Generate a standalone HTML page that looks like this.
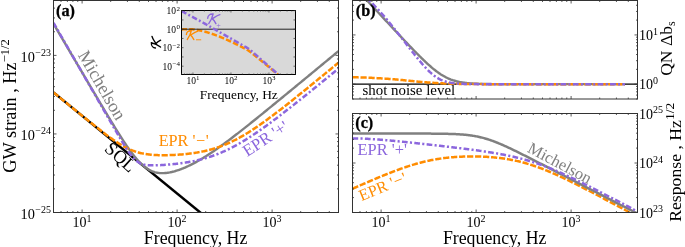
<!DOCTYPE html>
<html><head><meta charset="utf-8"><style>html,body{margin:0;padding:0;background:#fff;}svg{display:block;will-change:transform;}</style></head>
<body>
<svg width="685" height="247" viewBox="0 0 685 247" font-family="'Liberation Serif', serif">
<rect width="685" height="247" fill="#fff"/>
<defs>
<clipPath id="ca"><rect x="53.5" y="0.5" width="285.0" height="212.0"/></clipPath>
<clipPath id="cb"><rect x="352.5" y="0.5" width="285.0" height="98.5"/></clipPath>
<clipPath id="cc"><rect x="352.5" y="113.5" width="285.0" height="99.0"/></clipPath>
<clipPath id="ci"><rect x="181.5" y="10.5" width="114.0" height="64.0"/></clipPath>
</defs>
<g clip-path="url(#ca)">
<path d="M53.50,92.40 L215.00,224.51" stroke="#000" stroke-width="2.5" fill="none"/>
<path d="M53.50,23.71 L54.45,25.34 L55.41,26.96 L56.36,28.58 L57.31,30.20 L58.27,31.82 L59.22,33.44 L60.17,35.07 L61.13,36.69 L62.08,38.31 L63.03,39.93 L63.98,41.55 L64.94,43.17 L65.89,44.80 L66.84,46.42 L67.80,48.04 L68.75,49.66 L69.70,51.28 L70.66,52.90 L71.61,54.52 L72.56,56.14 L73.52,57.76 L74.47,59.38 L75.42,61.01 L76.38,62.63 L77.33,64.25 L78.28,65.87 L79.24,67.49 L80.19,69.11 L81.14,70.73 L82.10,72.34 L83.05,73.96 L84.00,75.58 L84.95,77.20 L85.91,78.82 L86.86,80.44 L87.81,82.05 L88.77,83.67 L89.72,85.29 L90.67,86.90 L91.63,88.52 L92.58,90.13 L93.53,91.74 L94.49,93.36 L95.44,94.97 L96.39,96.58 L97.35,98.19 L98.30,99.80 L99.25,101.41 L100.21,103.01 L101.16,104.61 L102.11,106.22 L103.07,107.82 L104.02,109.42 L104.97,111.01 L105.92,112.60 L106.88,114.19 L107.83,115.78 L108.78,117.36 L109.74,118.94 L110.69,120.52 L111.64,122.09 L112.60,123.66 L113.55,125.22 L114.50,126.77 L115.46,128.32 L116.41,129.86 L117.36,131.39 L118.32,132.91 L119.27,134.43 L120.22,135.93 L121.18,137.43 L122.13,138.91 L123.08,140.37 L124.04,141.83 L124.99,143.26 L125.94,144.68 L126.89,146.08 L127.85,147.47 L128.80,148.83 L129.75,150.16 L130.71,151.48 L131.66,152.76 L132.61,154.02 L133.57,155.25 L134.52,156.45 L135.47,157.61 L136.43,158.74 L137.38,159.84 L138.33,160.89 L139.29,161.90 L140.24,162.88 L141.19,163.81 L142.15,164.70 L143.10,165.54 L144.05,166.33 L145.01,167.09 L145.96,167.79 L146.91,168.45 L147.86,169.06 L148.82,169.62 L149.77,170.14 L150.72,170.61 L151.68,171.04 L152.63,171.42 L153.58,171.77 L154.54,172.07 L155.49,172.33 L156.44,172.55 L157.40,172.73 L158.35,172.88 L159.30,173.00 L160.26,173.08 L161.21,173.13 L162.16,173.15 L163.12,173.15 L164.07,173.11 L165.02,173.05 L165.97,172.97 L166.93,172.86 L167.88,172.73 L168.83,172.58 L169.79,172.41 L170.74,172.22 L171.69,172.02 L172.65,171.79 L173.60,171.55 L174.55,171.29 L175.51,171.01 L176.46,170.72 L177.41,170.42 L178.37,170.10 L179.32,169.77 L180.27,169.43 L181.23,169.07 L182.18,168.70 L183.13,168.32 L184.09,167.92 L185.04,167.52 L185.99,167.10 L186.94,166.67 L187.90,166.23 L188.85,165.78 L189.80,165.33 L190.76,164.86 L191.71,164.38 L192.66,163.89 L193.62,163.39 L194.57,162.89 L195.52,162.37 L196.48,161.85 L197.43,161.31 L198.38,160.77 L199.34,160.22 L200.29,159.67 L201.24,159.10 L202.20,158.53 L203.15,157.95 L204.10,157.36 L205.06,156.77 L206.01,156.17 L206.96,155.56 L207.91,154.95 L208.87,154.33 L209.82,153.70 L210.77,153.07 L211.73,152.43 L212.68,151.79 L213.63,151.14 L214.59,150.48 L215.54,149.82 L216.49,149.16 L217.45,148.49 L218.40,147.82 L219.35,147.14 L220.31,146.45 L221.26,145.77 L222.21,145.08 L223.17,144.38 L224.12,143.68 L225.07,142.98 L226.03,142.28 L226.98,141.57 L227.93,140.86 L228.88,140.14 L229.84,139.42 L230.79,138.70 L231.74,137.98 L232.70,137.25 L233.65,136.52 L234.60,135.79 L235.56,135.06 L236.51,134.32 L237.46,133.58 L238.42,132.84 L239.37,132.10 L240.32,131.35 L241.28,130.61 L242.23,129.86 L243.18,129.11 L244.14,128.36 L245.09,127.60 L246.04,126.85 L246.99,126.09 L247.95,125.34 L248.90,124.58 L249.85,123.82 L250.81,123.06 L251.76,122.29 L252.71,121.53 L253.67,120.76 L254.62,120.00 L255.57,119.23 L256.53,118.46 L257.48,117.70 L258.43,116.93 L259.39,116.16 L260.34,115.39 L261.29,114.61 L262.25,113.84 L263.20,113.07 L264.15,112.29 L265.11,111.52 L266.06,110.74 L267.01,109.97 L267.96,109.19 L268.92,108.42 L269.87,107.64 L270.82,106.86 L271.78,106.08 L272.73,105.30 L273.68,104.52 L274.64,103.75 L275.59,102.97 L276.54,102.19 L277.50,101.40 L278.45,100.62 L279.40,99.84 L280.36,99.06 L281.31,98.28 L282.26,97.50 L283.22,96.71 L284.17,95.93 L285.12,95.15 L286.08,94.37 L287.03,93.58 L287.98,92.80 L288.93,92.02 L289.89,91.23 L290.84,90.45 L291.79,89.66 L292.75,88.88 L293.70,88.09 L294.65,87.31 L295.61,86.52 L296.56,85.74 L297.51,84.95 L298.47,84.17 L299.42,83.38 L300.37,82.60 L301.33,81.81 L302.28,81.03 L303.23,80.24 L304.19,79.45 L305.14,78.67 L306.09,77.88 L307.05,77.09 L308.00,76.31 L308.95,75.52 L309.90,74.74 L310.86,73.95 L311.81,73.16 L312.76,72.38 L313.72,71.59 L314.67,70.80 L315.62,70.01 L316.58,69.23 L317.53,68.44 L318.48,67.65 L319.44,66.87 L320.39,66.08 L321.34,65.29 L322.30,64.50 L323.25,63.72 L324.20,62.93 L325.16,62.14 L326.11,61.36 L327.06,60.57 L328.02,59.78 L328.97,58.99 L329.92,58.21 L330.87,57.42 L331.83,56.63 L332.78,55.84 L333.73,55.06 L334.69,54.27 L335.64,53.48 L336.59,52.69 L337.55,51.90 L338.50,51.12" fill="none" stroke="#808080" stroke-width="2.4" stroke-linejoin="round"/>
<path d="M53.50,92.39 L54.45,93.17 L55.41,93.95 L56.36,94.73 L57.31,95.51 L58.27,96.29 L59.22,97.07 L60.17,97.85 L61.13,98.63 L62.08,99.41 L63.03,100.19 L63.98,100.97 L64.94,101.74 L65.89,102.52 L66.84,103.30 L67.80,104.08 L68.75,104.85 L69.70,105.63 L70.66,106.40 L71.61,107.18 L72.56,107.96 L73.52,108.73 L74.47,109.50 L75.42,110.28 L76.38,111.05 L77.33,111.82 L78.28,112.60 L79.24,113.37 L80.19,114.14 L81.14,114.91 L82.10,115.68 L83.05,116.45 L84.00,117.22 L84.95,117.98 L85.91,118.75 L86.86,119.52 L87.81,120.28 L88.77,121.05 L89.72,121.81 L90.67,122.57 L91.63,123.33 L92.58,124.09 L93.53,124.85 L94.49,125.60 L95.44,126.36 L96.39,127.11 L97.35,127.86 L98.30,128.60 L99.25,129.35 L100.21,130.09 L101.16,130.83 L102.11,131.56 L103.07,132.29 L104.02,133.02 L104.97,133.74 L105.92,134.46 L106.88,135.17 L107.83,135.88 L108.78,136.58 L109.74,137.27 L110.69,137.96 L111.64,138.64 L112.60,139.31 L113.55,139.98 L114.50,140.63 L115.46,141.28 L116.41,141.91 L117.36,142.53 L118.32,143.15 L119.27,143.75 L120.22,144.33 L121.18,144.91 L122.13,145.46 L123.08,146.01 L124.04,146.54 L124.99,147.05 L125.94,147.55 L126.89,148.03 L127.85,148.50 L128.80,148.95 L129.75,149.38 L130.71,149.79 L131.66,150.18 L132.61,150.56 L133.57,150.92 L134.52,151.26 L135.47,151.59 L136.43,151.90 L137.38,152.19 L138.33,152.46 L139.29,152.72 L140.24,152.96 L141.19,153.18 L142.15,153.39 L143.10,153.59 L144.05,153.77 L145.01,153.94 L145.96,154.09 L146.91,154.23 L147.86,154.36 L148.82,154.48 L149.77,154.59 L150.72,154.69 L151.68,154.77 L152.63,154.85 L153.58,154.92 L154.54,154.98 L155.49,155.04 L156.44,155.08 L157.40,155.12 L158.35,155.15 L159.30,155.18 L160.26,155.20 L161.21,155.21 L162.16,155.22 L163.12,155.22 L164.07,155.22 L165.02,155.21 L165.97,155.20 L166.93,155.18 L167.88,155.16 L168.83,155.14 L169.79,155.11 L170.74,155.08 L171.69,155.04 L172.65,155.00 L173.60,154.95 L174.55,154.90 L175.51,154.85 L176.46,154.79 L177.41,154.73 L178.37,154.67 L179.32,154.60 L180.27,154.53 L181.23,154.45 L182.18,154.38 L183.13,154.29 L184.09,154.20 L185.04,154.11 L185.99,154.01 L186.94,153.91 L187.90,153.81 L188.85,153.70 L189.80,153.58 L190.76,153.46 L191.71,153.33 L192.66,153.20 L193.62,153.07 L194.57,152.92 L195.52,152.78 L196.48,152.62 L197.43,152.47 L198.38,152.30 L199.34,152.13 L200.29,151.95 L201.24,151.77 L202.20,151.58 L203.15,151.38 L204.10,151.17 L205.06,150.96 L206.01,150.74 L206.96,150.52 L207.91,150.28 L208.87,150.04 L209.82,149.79 L210.77,149.53 L211.73,149.27 L212.68,148.99 L213.63,148.71 L214.59,148.42 L215.54,148.12 L216.49,147.81 L217.45,147.49 L218.40,147.17 L219.35,146.83 L220.31,146.49 L221.26,146.14 L222.21,145.78 L223.17,145.41 L224.12,145.03 L225.07,144.64 L226.03,144.24 L226.98,143.83 L227.93,143.42 L228.88,142.99 L229.84,142.56 L230.79,142.11 L231.74,141.66 L232.70,141.20 L233.65,140.73 L234.60,140.25 L235.56,139.77 L236.51,139.27 L237.46,138.77 L238.42,138.25 L239.37,137.73 L240.32,137.20 L241.28,136.67 L242.23,136.12 L243.18,135.57 L244.14,135.01 L245.09,134.44 L246.04,133.87 L246.99,133.29 L247.95,132.70 L248.90,132.10 L249.85,131.50 L250.81,130.89 L251.76,130.28 L252.71,129.66 L253.67,129.03 L254.62,128.40 L255.57,127.76 L256.53,127.11 L257.48,126.46 L258.43,125.81 L259.39,125.15 L260.34,124.49 L261.29,123.82 L262.25,123.14 L263.20,122.46 L264.15,121.78 L265.11,121.09 L266.06,120.40 L267.01,119.71 L267.96,119.01 L268.92,118.31 L269.87,117.60 L270.82,116.89 L271.78,116.18 L272.73,115.47 L273.68,114.75 L274.64,114.03 L275.59,113.30 L276.54,112.58 L277.50,111.85 L278.45,111.12 L279.40,110.38 L280.36,109.65 L281.31,108.91 L282.26,108.17 L283.22,107.43 L284.17,106.68 L285.12,105.93 L286.08,105.19 L287.03,104.44 L287.98,103.68 L288.93,102.93 L289.89,102.18 L290.84,101.42 L291.79,100.66 L292.75,99.90 L293.70,99.14 L294.65,98.38 L295.61,97.62 L296.56,96.86 L297.51,96.09 L298.47,95.33 L299.42,94.56 L300.37,93.79 L301.33,93.02 L302.28,92.25 L303.23,91.48 L304.19,90.71 L305.14,89.94 L306.09,89.17 L307.05,88.40 L308.00,87.62 L308.95,86.85 L309.90,86.07 L310.86,85.30 L311.81,84.52 L312.76,83.74 L313.72,82.97 L314.67,82.19 L315.62,81.41 L316.58,80.63 L317.53,79.85 L318.48,79.07 L319.44,78.29 L320.39,77.51 L321.34,76.73 L322.30,75.95 L323.25,75.17 L324.20,74.39 L325.16,73.61 L326.11,72.83 L327.06,72.04 L328.02,71.26 L328.97,70.48 L329.92,69.69 L330.87,68.91 L331.83,68.13 L332.78,67.34 L333.73,66.56 L334.69,65.78 L335.64,64.99 L336.59,64.21 L337.55,63.42 L338.50,62.64" fill="none" stroke="#ff8c00" stroke-width="2.5" stroke-dasharray="6.2,1.8" stroke-linejoin="round"/>
<path d="M53.50,22.76 L54.45,24.42 L55.41,26.08 L56.36,27.73 L57.31,29.39 L58.27,31.04 L59.22,32.70 L60.17,34.36 L61.13,36.01 L62.08,37.67 L63.03,39.33 L63.98,40.98 L64.94,42.64 L65.89,44.29 L66.84,45.95 L67.80,47.61 L68.75,49.26 L69.70,50.92 L70.66,52.58 L71.61,54.23 L72.56,55.89 L73.52,57.54 L74.47,59.20 L75.42,60.86 L76.38,62.51 L77.33,64.17 L78.28,65.82 L79.24,67.48 L80.19,69.14 L81.14,70.79 L82.10,72.45 L83.05,74.11 L84.00,75.76 L84.95,77.42 L85.91,79.07 L86.86,80.73 L87.81,82.39 L88.77,84.04 L89.72,85.70 L90.67,87.36 L91.63,89.01 L92.58,90.67 L93.53,92.32 L94.49,93.98 L95.44,95.64 L96.39,97.29 L97.35,98.95 L98.30,100.60 L99.25,102.26 L100.21,103.91 L101.16,105.57 L102.11,107.22 L103.07,108.88 L104.02,110.53 L104.97,112.19 L105.92,113.84 L106.88,115.50 L107.83,117.15 L108.78,118.80 L109.74,120.45 L110.69,122.10 L111.64,123.75 L112.60,125.40 L113.55,127.04 L114.50,128.68 L115.46,130.32 L116.41,131.96 L117.36,133.59 L118.32,135.21 L119.27,136.83 L120.22,138.43 L121.18,140.03 L122.13,141.61 L123.08,143.18 L124.04,144.73 L124.99,146.26 L125.94,147.76 L126.89,149.23 L127.85,150.66 L128.80,152.05 L129.75,153.39 L130.71,154.67 L131.66,155.89 L132.61,157.04 L133.57,158.12 L134.52,159.11 L135.47,160.02 L136.43,160.84 L137.38,161.58 L138.33,162.23 L139.29,162.80 L140.24,163.29 L141.19,163.71 L142.15,164.07 L143.10,164.36 L144.05,164.61 L145.01,164.81 L145.96,164.97 L146.91,165.09 L147.86,165.19 L148.82,165.26 L149.77,165.31 L150.72,165.35 L151.68,165.36 L152.63,165.37 L153.58,165.37 L154.54,165.35 L155.49,165.33 L156.44,165.30 L157.40,165.27 L158.35,165.23 L159.30,165.19 L160.26,165.14 L161.21,165.09 L162.16,165.03 L163.12,164.97 L164.07,164.91 L165.02,164.84 L165.97,164.77 L166.93,164.70 L167.88,164.62 L168.83,164.54 L169.79,164.46 L170.74,164.37 L171.69,164.29 L172.65,164.19 L173.60,164.10 L174.55,164.00 L175.51,163.89 L176.46,163.79 L177.41,163.68 L178.37,163.56 L179.32,163.44 L180.27,163.32 L181.23,163.20 L182.18,163.06 L183.13,162.93 L184.09,162.79 L185.04,162.64 L185.99,162.49 L186.94,162.34 L187.90,162.18 L188.85,162.01 L189.80,161.84 L190.76,161.67 L191.71,161.49 L192.66,161.30 L193.62,161.11 L194.57,160.91 L195.52,160.70 L196.48,160.49 L197.43,160.28 L198.38,160.05 L199.34,159.82 L200.29,159.59 L201.24,159.34 L202.20,159.09 L203.15,158.84 L204.10,158.57 L205.06,158.30 L206.01,158.02 L206.96,157.74 L207.91,157.45 L208.87,157.15 L209.82,156.84 L210.77,156.52 L211.73,156.20 L212.68,155.87 L213.63,155.53 L214.59,155.19 L215.54,154.83 L216.49,154.47 L217.45,154.10 L218.40,153.72 L219.35,153.34 L220.31,152.94 L221.26,152.54 L222.21,152.13 L223.17,151.72 L224.12,151.29 L225.07,150.86 L226.03,150.42 L226.98,149.97 L227.93,149.52 L228.88,149.05 L229.84,148.58 L230.79,148.10 L231.74,147.62 L232.70,147.12 L233.65,146.62 L234.60,146.11 L235.56,145.60 L236.51,145.08 L237.46,144.55 L238.42,144.01 L239.37,143.47 L240.32,142.92 L241.28,142.36 L242.23,141.80 L243.18,141.23 L244.14,140.65 L245.09,140.07 L246.04,139.48 L246.99,138.89 L247.95,138.29 L248.90,137.68 L249.85,137.07 L250.81,136.45 L251.76,135.83 L252.71,135.20 L253.67,134.57 L254.62,133.93 L255.57,133.29 L256.53,132.65 L257.48,131.99 L258.43,131.34 L259.39,130.68 L260.34,130.01 L261.29,129.35 L262.25,128.67 L263.20,128.00 L264.15,127.32 L265.11,126.63 L266.06,125.94 L267.01,125.25 L267.96,124.56 L268.92,123.86 L269.87,123.16 L270.82,122.46 L271.78,121.75 L272.73,121.04 L273.68,120.33 L274.64,119.61 L275.59,118.90 L276.54,118.17 L277.50,117.45 L278.45,116.73 L279.40,116.00 L280.36,115.27 L281.31,114.54 L282.26,113.80 L283.22,113.07 L284.17,112.33 L285.12,111.59 L286.08,110.85 L287.03,110.11 L287.98,109.36 L288.93,108.62 L289.89,107.87 L290.84,107.12 L291.79,106.37 L292.75,105.62 L293.70,104.86 L294.65,104.11 L295.61,103.35 L296.56,102.59 L297.51,101.83 L298.47,101.07 L299.42,100.31 L300.37,99.55 L301.33,98.79 L302.28,98.03 L303.23,97.26 L304.19,96.50 L305.14,95.73 L306.09,94.96 L307.05,94.19 L308.00,93.42 L308.95,92.65 L309.90,91.88 L310.86,91.11 L311.81,90.34 L312.76,89.57 L313.72,88.80 L314.67,88.02 L315.62,87.25 L316.58,86.47 L317.53,85.70 L318.48,84.92 L319.44,84.15 L320.39,83.37 L321.34,82.59 L322.30,81.82 L323.25,81.04 L324.20,80.26 L325.16,79.48 L326.11,78.70 L327.06,77.92 L328.02,77.14 L328.97,76.36 L329.92,75.58 L330.87,74.80 L331.83,74.02 L332.78,73.24 L333.73,72.46 L334.69,71.68 L335.64,70.90 L336.59,70.11 L337.55,69.33 L338.50,68.55" fill="none" stroke="#8c67dd" stroke-width="2.5" stroke-dasharray="5.7,2.3,2.1,2.3" stroke-linejoin="round"/>
</g>
<rect x="53.5" y="0.5" width="285.0" height="212.0" fill="none" stroke="#333" stroke-width="1"/>
<line x1="53.5" y1="212.5" x2="53.5" y2="211.0" stroke="#333" stroke-width="0.8"/>
<line x1="53.5" y1="0.5" x2="53.5" y2="2.0" stroke="#333" stroke-width="0.8"/>
<line x1="61.02221837452436" y1="212.5" x2="61.02221837452436" y2="211.0" stroke="#333" stroke-width="0.8"/>
<line x1="61.02221837452436" y1="0.5" x2="61.02221837452436" y2="2.0" stroke="#333" stroke-width="0.8"/>
<line x1="67.3821633894326" y1="212.5" x2="67.3821633894326" y2="211.0" stroke="#333" stroke-width="0.8"/>
<line x1="67.3821633894326" y1="0.5" x2="67.3821633894326" y2="2.0" stroke="#333" stroke-width="0.8"/>
<line x1="72.89139835231285" y1="212.5" x2="72.89139835231285" y2="211.0" stroke="#333" stroke-width="0.8"/>
<line x1="72.89139835231285" y1="0.5" x2="72.89139835231285" y2="2.0" stroke="#333" stroke-width="0.8"/>
<line x1="77.75088798481407" y1="212.5" x2="77.75088798481407" y2="211.0" stroke="#333" stroke-width="0.8"/>
<line x1="77.75088798481407" y1="0.5" x2="77.75088798481407" y2="2.0" stroke="#333" stroke-width="0.8"/>
<line x1="82.0978495880782" y1="212.5" x2="82.0978495880782" y2="209.5" stroke="#333" stroke-width="0.8"/>
<line x1="82.0978495880782" y1="0.5" x2="82.0978495880782" y2="3.5" stroke="#333" stroke-width="0.8"/>
<text x="82.10" y="227.00" font-size="14" text-anchor="middle" fill="#000">10<tspan font-size="10" dx="0.00" dy="-5.4">1</tspan></text>
<line x1="110.69569917615644" y1="212.5" x2="110.69569917615644" y2="211.0" stroke="#333" stroke-width="0.8"/>
<line x1="110.69569917615644" y1="0.5" x2="110.69569917615644" y2="2.0" stroke="#333" stroke-width="0.8"/>
<line x1="127.42436878644614" y1="212.5" x2="127.42436878644614" y2="211.0" stroke="#333" stroke-width="0.8"/>
<line x1="127.42436878644614" y1="0.5" x2="127.42436878644614" y2="2.0" stroke="#333" stroke-width="0.8"/>
<line x1="139.29354876423463" y1="212.5" x2="139.29354876423463" y2="211.0" stroke="#333" stroke-width="0.8"/>
<line x1="139.29354876423463" y1="0.5" x2="139.29354876423463" y2="2.0" stroke="#333" stroke-width="0.8"/>
<line x1="148.5" y1="212.5" x2="148.5" y2="211.0" stroke="#333" stroke-width="0.8"/>
<line x1="148.5" y1="0.5" x2="148.5" y2="2.0" stroke="#333" stroke-width="0.8"/>
<line x1="156.02221837452436" y1="212.5" x2="156.02221837452436" y2="211.0" stroke="#333" stroke-width="0.8"/>
<line x1="156.02221837452436" y1="0.5" x2="156.02221837452436" y2="2.0" stroke="#333" stroke-width="0.8"/>
<line x1="162.38216338943263" y1="212.5" x2="162.38216338943263" y2="211.0" stroke="#333" stroke-width="0.8"/>
<line x1="162.38216338943263" y1="0.5" x2="162.38216338943263" y2="2.0" stroke="#333" stroke-width="0.8"/>
<line x1="167.89139835231282" y1="212.5" x2="167.89139835231282" y2="211.0" stroke="#333" stroke-width="0.8"/>
<line x1="167.89139835231282" y1="0.5" x2="167.89139835231282" y2="2.0" stroke="#333" stroke-width="0.8"/>
<line x1="172.75088798481409" y1="212.5" x2="172.75088798481409" y2="211.0" stroke="#333" stroke-width="0.8"/>
<line x1="172.75088798481409" y1="0.5" x2="172.75088798481409" y2="2.0" stroke="#333" stroke-width="0.8"/>
<line x1="177.09784958807822" y1="212.5" x2="177.09784958807822" y2="209.5" stroke="#333" stroke-width="0.8"/>
<line x1="177.09784958807822" y1="0.5" x2="177.09784958807822" y2="3.5" stroke="#333" stroke-width="0.8"/>
<text x="177.10" y="227.00" font-size="14" text-anchor="middle" fill="#000">10<tspan font-size="10" dx="0.00" dy="-5.4">2</tspan></text>
<line x1="205.69569917615644" y1="212.5" x2="205.69569917615644" y2="211.0" stroke="#333" stroke-width="0.8"/>
<line x1="205.69569917615644" y1="0.5" x2="205.69569917615644" y2="2.0" stroke="#333" stroke-width="0.8"/>
<line x1="222.42436878644617" y1="212.5" x2="222.42436878644617" y2="211.0" stroke="#333" stroke-width="0.8"/>
<line x1="222.42436878644617" y1="0.5" x2="222.42436878644617" y2="2.0" stroke="#333" stroke-width="0.8"/>
<line x1="234.29354876423466" y1="212.5" x2="234.29354876423466" y2="211.0" stroke="#333" stroke-width="0.8"/>
<line x1="234.29354876423466" y1="0.5" x2="234.29354876423466" y2="2.0" stroke="#333" stroke-width="0.8"/>
<line x1="243.5" y1="212.5" x2="243.5" y2="211.0" stroke="#333" stroke-width="0.8"/>
<line x1="243.5" y1="0.5" x2="243.5" y2="2.0" stroke="#333" stroke-width="0.8"/>
<line x1="251.02221837452436" y1="212.5" x2="251.02221837452436" y2="211.0" stroke="#333" stroke-width="0.8"/>
<line x1="251.02221837452436" y1="0.5" x2="251.02221837452436" y2="2.0" stroke="#333" stroke-width="0.8"/>
<line x1="257.38216338943266" y1="212.5" x2="257.38216338943266" y2="211.0" stroke="#333" stroke-width="0.8"/>
<line x1="257.38216338943266" y1="0.5" x2="257.38216338943266" y2="2.0" stroke="#333" stroke-width="0.8"/>
<line x1="262.8913983523129" y1="212.5" x2="262.8913983523129" y2="211.0" stroke="#333" stroke-width="0.8"/>
<line x1="262.8913983523129" y1="0.5" x2="262.8913983523129" y2="2.0" stroke="#333" stroke-width="0.8"/>
<line x1="267.7508879848141" y1="212.5" x2="267.7508879848141" y2="211.0" stroke="#333" stroke-width="0.8"/>
<line x1="267.7508879848141" y1="0.5" x2="267.7508879848141" y2="2.0" stroke="#333" stroke-width="0.8"/>
<line x1="272.09784958807825" y1="212.5" x2="272.09784958807825" y2="209.5" stroke="#333" stroke-width="0.8"/>
<line x1="272.09784958807825" y1="0.5" x2="272.09784958807825" y2="3.5" stroke="#333" stroke-width="0.8"/>
<text x="272.10" y="227.00" font-size="14" text-anchor="middle" fill="#000">10<tspan font-size="10" dx="0.00" dy="-5.4">3</tspan></text>
<line x1="300.69569917615644" y1="212.5" x2="300.69569917615644" y2="211.0" stroke="#333" stroke-width="0.8"/>
<line x1="300.69569917615644" y1="0.5" x2="300.69569917615644" y2="2.0" stroke="#333" stroke-width="0.8"/>
<line x1="317.42436878644617" y1="212.5" x2="317.42436878644617" y2="211.0" stroke="#333" stroke-width="0.8"/>
<line x1="317.42436878644617" y1="0.5" x2="317.42436878644617" y2="2.0" stroke="#333" stroke-width="0.8"/>
<line x1="329.29354876423463" y1="212.5" x2="329.29354876423463" y2="211.0" stroke="#333" stroke-width="0.8"/>
<line x1="329.29354876423463" y1="0.5" x2="329.29354876423463" y2="2.0" stroke="#333" stroke-width="0.8"/>
<line x1="338.5" y1="212.5" x2="338.5" y2="211.0" stroke="#333" stroke-width="0.8"/>
<line x1="338.5" y1="0.5" x2="338.5" y2="2.0" stroke="#333" stroke-width="0.8"/>
<line x1="53.5" y1="212.5" x2="56.5" y2="212.5" stroke="#333" stroke-width="0.8"/>
<line x1="338.5" y1="212.5" x2="335.5" y2="212.5" stroke="#333" stroke-width="0.8"/>
<line x1="53.5" y1="188.85455044767562" x2="55.0" y2="188.85455044767562" stroke="#333" stroke-width="0.8"/>
<line x1="338.5" y1="188.85455044767562" x2="337.0" y2="188.85455044767562" stroke="#333" stroke-width="0.8"/>
<line x1="53.5" y1="175.022849146872" x2="55.0" y2="175.022849146872" stroke="#333" stroke-width="0.8"/>
<line x1="338.5" y1="175.022849146872" x2="337.0" y2="175.022849146872" stroke="#333" stroke-width="0.8"/>
<line x1="53.5" y1="165.20910089535124" x2="55.0" y2="165.20910089535124" stroke="#333" stroke-width="0.8"/>
<line x1="338.5" y1="165.20910089535124" x2="337.0" y2="165.20910089535124" stroke="#333" stroke-width="0.8"/>
<line x1="53.5" y1="157.59696636821624" x2="55.0" y2="157.59696636821624" stroke="#333" stroke-width="0.8"/>
<line x1="338.5" y1="157.59696636821624" x2="337.0" y2="157.59696636821624" stroke="#333" stroke-width="0.8"/>
<line x1="53.5" y1="151.37739959454763" x2="55.0" y2="151.37739959454763" stroke="#333" stroke-width="0.8"/>
<line x1="338.5" y1="151.37739959454763" x2="337.0" y2="151.37739959454763" stroke="#333" stroke-width="0.8"/>
<line x1="53.5" y1="146.1188308150174" x2="55.0" y2="146.1188308150174" stroke="#333" stroke-width="0.8"/>
<line x1="338.5" y1="146.1188308150174" x2="337.0" y2="146.1188308150174" stroke="#333" stroke-width="0.8"/>
<line x1="53.5" y1="141.56365134302686" x2="55.0" y2="141.56365134302686" stroke="#333" stroke-width="0.8"/>
<line x1="338.5" y1="141.56365134302686" x2="337.0" y2="141.56365134302686" stroke="#333" stroke-width="0.8"/>
<line x1="53.5" y1="137.545698293744" x2="55.0" y2="137.545698293744" stroke="#333" stroke-width="0.8"/>
<line x1="338.5" y1="137.545698293744" x2="337.0" y2="137.545698293744" stroke="#333" stroke-width="0.8"/>
<line x1="53.5" y1="133.95151681589186" x2="56.5" y2="133.95151681589186" stroke="#333" stroke-width="0.8"/>
<line x1="338.5" y1="133.95151681589186" x2="335.5" y2="133.95151681589186" stroke="#333" stroke-width="0.8"/>
<line x1="53.5" y1="110.3060672635675" x2="55.0" y2="110.3060672635675" stroke="#333" stroke-width="0.8"/>
<line x1="338.5" y1="110.3060672635675" x2="337.0" y2="110.3060672635675" stroke="#333" stroke-width="0.8"/>
<line x1="53.5" y1="96.47436596276388" x2="55.0" y2="96.47436596276388" stroke="#333" stroke-width="0.8"/>
<line x1="338.5" y1="96.47436596276388" x2="337.0" y2="96.47436596276388" stroke="#333" stroke-width="0.8"/>
<line x1="53.5" y1="86.66061771124312" x2="55.0" y2="86.66061771124312" stroke="#333" stroke-width="0.8"/>
<line x1="338.5" y1="86.66061771124312" x2="337.0" y2="86.66061771124312" stroke="#333" stroke-width="0.8"/>
<line x1="53.5" y1="79.04848318410812" x2="55.0" y2="79.04848318410812" stroke="#333" stroke-width="0.8"/>
<line x1="338.5" y1="79.04848318410812" x2="337.0" y2="79.04848318410812" stroke="#333" stroke-width="0.8"/>
<line x1="53.5" y1="72.82891641043952" x2="55.0" y2="72.82891641043952" stroke="#333" stroke-width="0.8"/>
<line x1="338.5" y1="72.82891641043952" x2="337.0" y2="72.82891641043952" stroke="#333" stroke-width="0.8"/>
<line x1="53.5" y1="67.57034763090928" x2="55.0" y2="67.57034763090928" stroke="#333" stroke-width="0.8"/>
<line x1="338.5" y1="67.57034763090928" x2="337.0" y2="67.57034763090928" stroke="#333" stroke-width="0.8"/>
<line x1="53.5" y1="63.015168158918755" x2="55.0" y2="63.015168158918755" stroke="#333" stroke-width="0.8"/>
<line x1="338.5" y1="63.015168158918755" x2="337.0" y2="63.015168158918755" stroke="#333" stroke-width="0.8"/>
<line x1="53.5" y1="58.9972151096359" x2="55.0" y2="58.9972151096359" stroke="#333" stroke-width="0.8"/>
<line x1="338.5" y1="58.9972151096359" x2="337.0" y2="58.9972151096359" stroke="#333" stroke-width="0.8"/>
<line x1="53.5" y1="55.40303363178375" x2="56.5" y2="55.40303363178375" stroke="#333" stroke-width="0.8"/>
<line x1="338.5" y1="55.40303363178375" x2="335.5" y2="55.40303363178375" stroke="#333" stroke-width="0.8"/>
<line x1="53.5" y1="31.757584079459377" x2="55.0" y2="31.757584079459377" stroke="#333" stroke-width="0.8"/>
<line x1="338.5" y1="31.757584079459377" x2="337.0" y2="31.757584079459377" stroke="#333" stroke-width="0.8"/>
<line x1="53.5" y1="17.925882778655765" x2="55.0" y2="17.925882778655765" stroke="#333" stroke-width="0.8"/>
<line x1="338.5" y1="17.925882778655765" x2="337.0" y2="17.925882778655765" stroke="#333" stroke-width="0.8"/>
<line x1="53.5" y1="8.112134527135005" x2="55.0" y2="8.112134527135005" stroke="#333" stroke-width="0.8"/>
<line x1="338.5" y1="8.112134527135005" x2="337.0" y2="8.112134527135005" stroke="#333" stroke-width="0.8"/>
<line x1="53.5" y1="0.5" x2="55.0" y2="0.5" stroke="#333" stroke-width="0.8"/>
<line x1="338.5" y1="0.5" x2="337.0" y2="0.5" stroke="#333" stroke-width="0.8"/>
<text x="51.00" y="61.50" font-size="14.3" text-anchor="end" fill="#000">10<tspan font-size="10" dx="0.51" dy="-5.7">−23</tspan></text>
<text x="51.00" y="140.05" font-size="14.3" text-anchor="end" fill="#000">10<tspan font-size="10" dx="0.51" dy="-5.7">−24</tspan></text>
<text x="51.00" y="218.60" font-size="14.3" text-anchor="end" fill="#000">10<tspan font-size="10" dx="0.51" dy="-5.7">−25</tspan></text>
<text x="56.00" y="15.60" font-size="16.2" text-anchor="start" fill="#000" font-weight="bold" stroke="#000" stroke-width="0.3">(a)</text>
<text x="195.60" y="243.90" font-size="17.8" text-anchor="middle" fill="#000" font-weight="normal">Frequency, Hz</text>
<text x="15.50" y="106.00" font-size="18.3" text-anchor="middle" fill="#000" font-weight="normal" transform="rotate(-90 15.5 106)">GW strain , Hz<tspan font-size="12.5" dy="-6.5">−1/2</tspan></text>
<text x="77.60" y="55.00" font-size="18.2" text-anchor="start" fill="#808080" font-weight="normal" transform="rotate(59.8 77.6 55.0)">Michelson</text>
<text x="103.50" y="150.00" font-size="18.5" text-anchor="start" fill="#000" font-weight="normal" transform="rotate(42 103.5 150)">SQL</text>
<text x="158.70" y="145.80" font-size="16.2" text-anchor="start" fill="#ff8c00" font-weight="normal">EPR '<tspan dx="0.6">−</tspan><tspan dx="0.6">'</tspan></text>
<text x="247.20" y="157.00" font-size="16.8" text-anchor="start" fill="#8c67dd" font-weight="normal" transform="rotate(-33 247.2 157)">EPR '+'</text>
<rect x="181.5" y="10.5" width="114.0" height="64.0" fill="#d9d9d9"/>
<g clip-path="url(#ci)">
<path d="M181.50,29.50 L181.88,29.46 L182.26,29.41 L182.64,29.37 L183.03,29.33 L183.41,29.30 L183.79,29.26 L184.17,29.24 L184.55,29.21 L184.93,29.19 L185.31,29.17 L185.69,29.15 L186.08,29.14 L186.46,29.13 L186.84,29.13 L187.22,29.12 L187.60,29.12 L187.98,29.12 L188.36,29.13 L188.74,29.13 L189.13,29.15 L189.51,29.16 L189.89,29.17 L190.27,29.19 L190.65,29.21 L191.03,29.24 L191.41,29.27 L191.79,29.29 L192.18,29.33 L192.56,29.36 L192.94,29.40 L193.32,29.44 L193.70,29.48 L194.08,29.52 L194.46,29.57 L194.84,29.62 L195.23,29.67 L195.61,29.72 L195.99,29.78 L196.37,29.83 L196.75,29.89 L197.13,29.96 L197.51,30.02 L197.89,30.09 L198.28,30.16 L198.66,30.23 L199.04,30.30 L199.42,30.37 L199.80,30.45 L200.18,30.53 L200.56,30.61 L200.94,30.69 L201.33,30.78 L201.71,30.86 L202.09,30.95 L202.47,31.04 L202.85,31.13 L203.23,31.23 L203.61,31.32 L203.99,31.42 L204.38,31.52 L204.76,31.62 L205.14,31.72 L205.52,31.83 L205.90,31.93 L206.28,32.04 L206.66,32.15 L207.05,32.26 L207.43,32.37 L207.81,32.48 L208.19,32.60 L208.57,32.72 L208.95,32.83 L209.33,32.95 L209.71,33.08 L210.10,33.20 L210.48,33.32 L210.86,33.45 L211.24,33.57 L211.62,33.70 L212.00,33.83 L212.38,33.96 L212.76,34.10 L213.15,34.23 L213.53,34.36 L213.91,34.50 L214.29,34.64 L214.67,34.78 L215.05,34.92 L215.43,35.06 L215.81,35.20 L216.20,35.34 L216.58,35.49 L216.96,35.63 L217.34,35.78 L217.72,35.93 L218.10,36.08 L218.48,36.23 L218.86,36.38 L219.25,36.53 L219.63,36.68 L220.01,36.84 L220.39,36.99 L220.77,37.15 L221.15,37.31 L221.53,37.47 L221.91,37.63 L222.30,37.79 L222.68,37.95 L223.06,38.11 L223.44,38.27 L223.82,38.44 L224.20,38.60 L224.58,38.77 L224.96,38.94 L225.35,39.10 L225.73,39.27 L226.11,39.44 L226.49,39.61 L226.87,39.78 L227.25,39.96 L227.63,40.13 L228.02,40.30 L228.40,40.48 L228.78,40.65 L229.16,40.83 L229.54,41.01 L229.92,41.18 L230.30,41.36 L230.68,41.54 L231.07,41.72 L231.45,41.90 L231.83,42.08 L232.21,42.26 L232.59,42.45 L232.97,42.63 L233.35,42.81 L233.73,43.00 L234.12,43.18 L234.50,43.37 L234.88,43.56 L235.26,43.74 L235.64,43.93 L236.02,44.12 L236.40,44.31 L236.78,44.50 L237.17,44.69 L237.55,44.88 L237.93,45.07 L238.31,45.26 L238.69,45.45 L239.07,45.65 L239.45,45.84 L239.83,46.03 L240.22,46.23 L240.60,46.42 L240.98,46.62 L241.36,46.81 L241.74,47.01 L242.12,47.21 L242.50,47.41 L242.88,47.60 L243.27,47.80 L243.65,48.00 L244.03,48.20 L244.41,48.40 L244.79,48.60 L245.17,48.80 L245.55,49.00 L245.93,49.21 L246.32,49.41 L246.70,49.61 L247.08,49.81 L247.46,50.02 L247.84,50.22 L248.22,50.43 L248.60,50.64 L248.98,50.88 L249.37,51.18 L249.75,51.48 L250.13,51.78 L250.51,52.08 L250.89,52.38 L251.27,52.69 L251.65,52.99 L252.04,53.29 L252.42,53.60 L252.80,53.90 L253.18,54.21 L253.56,54.51 L253.94,54.82 L254.32,55.12 L254.70,55.43 L255.09,55.74 L255.47,56.04 L255.85,56.35 L256.23,56.66 L256.61,56.96 L256.99,57.27 L257.37,57.58 L257.75,57.89 L258.14,58.20 L258.52,58.51 L258.90,58.82 L259.28,59.13 L259.66,59.44 L260.04,59.75 L260.42,60.06 L260.80,60.37 L261.19,60.68 L261.57,60.99 L261.95,61.30 L262.33,61.61 L262.71,61.93 L263.09,62.24 L263.47,62.55 L263.85,62.86 L264.24,63.18 L264.62,63.49 L265.00,63.80 L265.38,64.12 L265.76,64.43 L266.14,64.74 L266.52,65.06 L266.90,65.37 L267.29,65.69 L267.67,66.00 L268.05,66.32 L268.43,66.63 L268.81,66.95 L269.19,67.26 L269.57,67.58 L269.95,67.90 L270.34,68.21 L270.72,68.53 L271.10,68.85 L271.48,69.16 L271.86,69.48 L272.24,69.80 L272.62,70.12 L273.01,70.43 L273.39,70.75 L273.77,71.07 L274.15,71.39 L274.53,71.71 L274.91,72.02 L275.29,72.34 L275.67,72.66 L276.06,72.98 L276.44,73.30 L276.82,73.62 L277.20,73.94 L277.58,74.26 L277.96,74.58 L278.34,74.90 L278.72,75.22 L279.11,75.54 L279.49,75.86 L279.87,76.18 L280.25,76.50 L280.63,76.82 L281.01,77.14 L281.39,77.46 L281.77,77.78 L282.16,78.10 L282.54,78.42 L282.92,78.75 L283.30,79.07 L283.68,79.39 L284.06,79.71 L284.44,80.03 L284.82,80.35 L285.21,80.68 L285.59,81.00 L285.97,81.32 L286.35,81.64 L286.73,81.97 L287.11,82.29 L287.49,82.61 L287.87,82.93 L288.26,83.26 L288.64,83.58 L289.02,83.90 L289.40,84.23 L289.78,84.55 L290.16,84.87 L290.54,85.20 L290.92,85.52 L291.31,85.85 L291.69,86.17 L292.07,86.49 L292.45,86.82 L292.83,87.14 L293.21,87.47 L293.59,87.79 L293.97,88.11 L294.36,88.44 L294.74,88.76 L295.12,89.09 L295.50,89.41" fill="none" stroke="#ff8c00" stroke-width="2.5" stroke-dasharray="5.5,2.2" stroke-linejoin="round"/>
<line x1="181.5" y1="29.2" x2="295.5" y2="29.2" stroke="#222" stroke-width="1.0"/>
<path d="M181.50,10.99 L181.88,11.20 L182.26,11.41 L182.64,11.61 L183.03,11.82 L183.41,12.02 L183.79,12.23 L184.17,12.44 L184.55,12.64 L184.93,12.85 L185.31,13.05 L185.69,13.26 L186.08,13.46 L186.46,13.67 L186.84,13.88 L187.22,14.08 L187.60,14.29 L187.98,14.49 L188.36,14.70 L188.74,14.91 L189.13,15.11 L189.51,15.32 L189.89,15.52 L190.27,15.73 L190.65,15.93 L191.03,16.14 L191.41,16.35 L191.79,16.55 L192.18,16.76 L192.56,16.96 L192.94,17.17 L193.32,17.38 L193.70,17.58 L194.08,17.79 L194.46,17.99 L194.84,18.20 L195.23,18.41 L195.61,18.61 L195.99,18.82 L196.37,19.02 L196.75,19.23 L197.13,19.44 L197.51,19.64 L197.89,19.85 L198.28,20.06 L198.66,20.27 L199.04,20.47 L199.42,20.68 L199.80,20.89 L200.18,21.10 L200.56,21.31 L200.94,21.52 L201.33,21.72 L201.71,21.94 L202.09,22.15 L202.47,22.36 L202.85,22.57 L203.23,22.78 L203.61,22.99 L203.99,23.21 L204.38,23.42 L204.76,23.63 L205.14,23.85 L205.52,24.06 L205.90,24.28 L206.28,24.49 L206.66,24.71 L207.05,24.93 L207.43,25.14 L207.81,25.36 L208.19,25.58 L208.57,25.79 L208.95,26.01 L209.33,26.23 L209.71,26.45 L210.10,26.66 L210.48,26.88 L210.86,27.10 L211.24,27.32 L211.62,27.53 L212.00,27.75 L212.38,27.97 L212.76,28.19 L213.15,28.41 L213.53,28.62 L213.91,28.84 L214.29,29.06 L214.67,29.28 L215.05,29.49 L215.43,29.71 L215.81,29.93 L216.20,30.15 L216.58,30.37 L216.96,30.58 L217.34,30.80 L217.72,31.02 L218.10,31.24 L218.48,31.46 L218.86,31.67 L219.25,31.89 L219.63,32.11 L220.01,32.33 L220.39,32.55 L220.77,32.76 L221.15,32.98 L221.53,33.20 L221.91,33.42 L222.30,33.64 L222.68,33.85 L223.06,34.07 L223.44,34.29 L223.82,34.51 L224.20,34.73 L224.58,34.94 L224.96,35.16 L225.35,35.38 L225.73,35.60 L226.11,35.82 L226.49,36.03 L226.87,36.25 L227.25,36.47 L227.63,36.69 L228.02,36.91 L228.40,37.12 L228.78,37.34 L229.16,37.56 L229.54,37.78 L229.92,38.00 L230.30,38.21 L230.68,38.43 L231.07,38.65 L231.45,38.87 L231.83,39.09 L232.21,39.30 L232.59,39.52 L232.97,39.74 L233.35,39.96 L233.73,40.18 L234.12,40.39 L234.50,40.61 L234.88,40.83 L235.26,41.05 L235.64,41.27 L236.02,41.48 L236.40,41.70 L236.78,41.92 L237.17,42.14 L237.55,42.36 L237.93,42.57 L238.31,42.79 L238.69,43.01 L239.07,43.23 L239.45,43.45 L239.83,43.66 L240.22,43.88 L240.60,44.10 L240.98,44.32 L241.36,44.53 L241.74,44.75 L242.12,44.97 L242.50,45.19 L242.88,45.41 L243.27,45.63 L243.65,45.84 L244.03,46.06 L244.41,46.28 L244.79,46.50 L245.17,46.72 L245.55,46.94 L245.93,47.15 L246.32,47.38 L246.70,47.60 L247.08,47.82 L247.46,48.05 L247.84,48.28 L248.22,48.52 L248.60,48.77 L248.98,49.03 L249.37,49.30 L249.75,49.59 L250.13,49.89 L250.51,50.20 L250.89,50.52 L251.27,50.84 L251.65,51.17 L252.04,51.50 L252.42,51.83 L252.80,52.16 L253.18,52.49 L253.56,52.83 L253.94,53.16 L254.32,53.49 L254.70,53.83 L255.09,54.16 L255.47,54.50 L255.85,54.83 L256.23,55.17 L256.61,55.50 L256.99,55.83 L257.37,56.17 L257.75,56.50 L258.14,56.84 L258.52,57.17 L258.90,57.51 L259.28,57.84 L259.66,58.17 L260.04,58.51 L260.42,58.84 L260.80,59.18 L261.19,59.51 L261.57,59.85 L261.95,60.18 L262.33,60.52 L262.71,60.85 L263.09,61.18 L263.47,61.52 L263.85,61.85 L264.24,62.19 L264.62,62.52 L265.00,62.86 L265.38,63.19 L265.76,63.53 L266.14,63.86 L266.52,64.19 L266.90,64.53 L267.29,64.86 L267.67,65.20 L268.05,65.53 L268.43,65.87 L268.81,66.20 L269.19,66.54 L269.57,66.87 L269.95,67.20 L270.34,67.54 L270.72,67.87 L271.10,68.21 L271.48,68.54 L271.86,68.88 L272.24,69.21 L272.62,69.54 L273.01,69.88 L273.39,70.21 L273.77,70.55 L274.15,70.88 L274.53,71.22 L274.91,71.55 L275.29,71.89 L275.67,72.22 L276.06,72.55 L276.44,72.89 L276.82,73.22 L277.20,73.56 L277.58,73.89 L277.96,74.23 L278.34,74.56 L278.72,74.90 L279.11,75.23 L279.49,75.56 L279.87,75.90 L280.25,76.23 L280.63,76.57 L281.01,76.90 L281.39,77.24 L281.77,77.57 L282.16,77.91 L282.54,78.24 L282.92,78.57 L283.30,78.91 L283.68,79.24 L284.06,79.58 L284.44,79.91 L284.82,80.25 L285.21,80.58 L285.59,80.91 L285.97,81.25 L286.35,81.58 L286.73,81.92 L287.11,82.25 L287.49,82.59 L287.87,82.92 L288.26,83.26 L288.64,83.59 L289.02,83.92 L289.40,84.26 L289.78,84.59 L290.16,84.93 L290.54,85.26 L290.92,85.60 L291.31,85.93 L291.69,86.27 L292.07,86.60 L292.45,86.93 L292.83,87.27 L293.21,87.60 L293.59,87.94 L293.97,88.27 L294.36,88.61 L294.74,88.94 L295.12,89.28 L295.50,89.61" fill="none" stroke="#8c67dd" stroke-width="2.5" stroke-dasharray="5.5,2.3,1.9,2.3" stroke-linejoin="round"/>
</g>
<rect x="181.5" y="10.5" width="114.0" height="64.0" fill="none" stroke="#000" stroke-width="1"/>
<line x1="181.5" y1="74.5" x2="181.5" y2="73.5" stroke="#333" stroke-width="0.7"/>
<line x1="181.5" y1="10.5" x2="181.5" y2="11.5" stroke="#333" stroke-width="0.7"/>
<line x1="184.50888734980975" y1="74.5" x2="184.50888734980975" y2="73.5" stroke="#333" stroke-width="0.7"/>
<line x1="184.50888734980975" y1="10.5" x2="184.50888734980975" y2="11.5" stroke="#333" stroke-width="0.7"/>
<line x1="187.05286535577304" y1="74.5" x2="187.05286535577304" y2="73.5" stroke="#333" stroke-width="0.7"/>
<line x1="187.05286535577304" y1="10.5" x2="187.05286535577304" y2="11.5" stroke="#333" stroke-width="0.7"/>
<line x1="189.25655934092515" y1="74.5" x2="189.25655934092515" y2="73.5" stroke="#333" stroke-width="0.7"/>
<line x1="189.25655934092515" y1="10.5" x2="189.25655934092515" y2="11.5" stroke="#333" stroke-width="0.7"/>
<line x1="191.20035519392562" y1="74.5" x2="191.20035519392562" y2="73.5" stroke="#333" stroke-width="0.7"/>
<line x1="191.20035519392562" y1="10.5" x2="191.20035519392562" y2="11.5" stroke="#333" stroke-width="0.7"/>
<line x1="192.9391398352313" y1="74.5" x2="192.9391398352313" y2="72.5" stroke="#333" stroke-width="0.7"/>
<line x1="192.9391398352313" y1="10.5" x2="192.9391398352313" y2="12.5" stroke="#333" stroke-width="0.7"/>
<text x="192.94" y="84.00" font-size="9.5" text-anchor="middle" fill="#000">10<tspan font-size="7" dx="0.00" dy="-3.6">1</tspan></text>
<line x1="204.37827967046258" y1="74.5" x2="204.37827967046258" y2="73.5" stroke="#333" stroke-width="0.7"/>
<line x1="204.37827967046258" y1="10.5" x2="204.37827967046258" y2="11.5" stroke="#333" stroke-width="0.7"/>
<line x1="211.06974751457847" y1="74.5" x2="211.06974751457847" y2="73.5" stroke="#333" stroke-width="0.7"/>
<line x1="211.06974751457847" y1="10.5" x2="211.06974751457847" y2="11.5" stroke="#333" stroke-width="0.7"/>
<line x1="215.81741950569386" y1="74.5" x2="215.81741950569386" y2="73.5" stroke="#333" stroke-width="0.7"/>
<line x1="215.81741950569386" y1="10.5" x2="215.81741950569386" y2="11.5" stroke="#333" stroke-width="0.7"/>
<line x1="219.5" y1="74.5" x2="219.5" y2="73.5" stroke="#333" stroke-width="0.7"/>
<line x1="219.5" y1="10.5" x2="219.5" y2="11.5" stroke="#333" stroke-width="0.7"/>
<line x1="222.50888734980975" y1="74.5" x2="222.50888734980975" y2="73.5" stroke="#333" stroke-width="0.7"/>
<line x1="222.50888734980975" y1="10.5" x2="222.50888734980975" y2="11.5" stroke="#333" stroke-width="0.7"/>
<line x1="225.05286535577306" y1="74.5" x2="225.05286535577306" y2="73.5" stroke="#333" stroke-width="0.7"/>
<line x1="225.05286535577306" y1="10.5" x2="225.05286535577306" y2="11.5" stroke="#333" stroke-width="0.7"/>
<line x1="227.25655934092515" y1="74.5" x2="227.25655934092515" y2="73.5" stroke="#333" stroke-width="0.7"/>
<line x1="227.25655934092515" y1="10.5" x2="227.25655934092515" y2="11.5" stroke="#333" stroke-width="0.7"/>
<line x1="229.20035519392565" y1="74.5" x2="229.20035519392565" y2="73.5" stroke="#333" stroke-width="0.7"/>
<line x1="229.20035519392565" y1="10.5" x2="229.20035519392565" y2="11.5" stroke="#333" stroke-width="0.7"/>
<line x1="230.9391398352313" y1="74.5" x2="230.9391398352313" y2="72.5" stroke="#333" stroke-width="0.7"/>
<line x1="230.9391398352313" y1="10.5" x2="230.9391398352313" y2="12.5" stroke="#333" stroke-width="0.7"/>
<text x="230.94" y="84.00" font-size="9.5" text-anchor="middle" fill="#000">10<tspan font-size="7" dx="0.00" dy="-3.6">2</tspan></text>
<line x1="242.37827967046258" y1="74.5" x2="242.37827967046258" y2="73.5" stroke="#333" stroke-width="0.7"/>
<line x1="242.37827967046258" y1="10.5" x2="242.37827967046258" y2="11.5" stroke="#333" stroke-width="0.7"/>
<line x1="249.06974751457847" y1="74.5" x2="249.06974751457847" y2="73.5" stroke="#333" stroke-width="0.7"/>
<line x1="249.06974751457847" y1="10.5" x2="249.06974751457847" y2="11.5" stroke="#333" stroke-width="0.7"/>
<line x1="253.81741950569386" y1="74.5" x2="253.81741950569386" y2="73.5" stroke="#333" stroke-width="0.7"/>
<line x1="253.81741950569386" y1="10.5" x2="253.81741950569386" y2="11.5" stroke="#333" stroke-width="0.7"/>
<line x1="257.5" y1="74.5" x2="257.5" y2="73.5" stroke="#333" stroke-width="0.7"/>
<line x1="257.5" y1="10.5" x2="257.5" y2="11.5" stroke="#333" stroke-width="0.7"/>
<line x1="260.50888734980975" y1="74.5" x2="260.50888734980975" y2="73.5" stroke="#333" stroke-width="0.7"/>
<line x1="260.50888734980975" y1="10.5" x2="260.50888734980975" y2="11.5" stroke="#333" stroke-width="0.7"/>
<line x1="263.05286535577306" y1="74.5" x2="263.05286535577306" y2="73.5" stroke="#333" stroke-width="0.7"/>
<line x1="263.05286535577306" y1="10.5" x2="263.05286535577306" y2="11.5" stroke="#333" stroke-width="0.7"/>
<line x1="265.25655934092515" y1="74.5" x2="265.25655934092515" y2="73.5" stroke="#333" stroke-width="0.7"/>
<line x1="265.25655934092515" y1="10.5" x2="265.25655934092515" y2="11.5" stroke="#333" stroke-width="0.7"/>
<line x1="267.20035519392565" y1="74.5" x2="267.20035519392565" y2="73.5" stroke="#333" stroke-width="0.7"/>
<line x1="267.20035519392565" y1="10.5" x2="267.20035519392565" y2="11.5" stroke="#333" stroke-width="0.7"/>
<line x1="268.9391398352313" y1="74.5" x2="268.9391398352313" y2="72.5" stroke="#333" stroke-width="0.7"/>
<line x1="268.9391398352313" y1="10.5" x2="268.9391398352313" y2="12.5" stroke="#333" stroke-width="0.7"/>
<text x="268.94" y="84.00" font-size="9.5" text-anchor="middle" fill="#000">10<tspan font-size="7" dx="0.00" dy="-3.6">3</tspan></text>
<line x1="280.3782796704626" y1="74.5" x2="280.3782796704626" y2="73.5" stroke="#333" stroke-width="0.7"/>
<line x1="280.3782796704626" y1="10.5" x2="280.3782796704626" y2="11.5" stroke="#333" stroke-width="0.7"/>
<line x1="287.06974751457847" y1="74.5" x2="287.06974751457847" y2="73.5" stroke="#333" stroke-width="0.7"/>
<line x1="287.06974751457847" y1="10.5" x2="287.06974751457847" y2="11.5" stroke="#333" stroke-width="0.7"/>
<line x1="291.81741950569386" y1="74.5" x2="291.81741950569386" y2="73.5" stroke="#333" stroke-width="0.7"/>
<line x1="291.81741950569386" y1="10.5" x2="291.81741950569386" y2="11.5" stroke="#333" stroke-width="0.7"/>
<line x1="295.5" y1="74.5" x2="295.5" y2="73.5" stroke="#333" stroke-width="0.7"/>
<line x1="295.5" y1="10.5" x2="295.5" y2="11.5" stroke="#333" stroke-width="0.7"/>
<line x1="181.5" y1="66.2" x2="183.5" y2="66.2" stroke="#333" stroke-width="0.7"/>
<line x1="295.5" y1="66.2" x2="293.5" y2="66.2" stroke="#333" stroke-width="0.7"/>
<text x="180.00" y="69.80" font-size="9.5" text-anchor="end" fill="#000">10<tspan font-size="7" dx="0.50" dy="-3.6">−4</tspan></text>
<line x1="181.5" y1="56.95" x2="183.5" y2="56.95" stroke="#333" stroke-width="0.7"/>
<line x1="295.5" y1="56.95" x2="293.5" y2="56.95" stroke="#333" stroke-width="0.7"/>
<line x1="181.5" y1="47.7" x2="183.5" y2="47.7" stroke="#333" stroke-width="0.7"/>
<line x1="295.5" y1="47.7" x2="293.5" y2="47.7" stroke="#333" stroke-width="0.7"/>
<text x="180.00" y="51.30" font-size="9.5" text-anchor="end" fill="#000">10<tspan font-size="7" dx="0.50" dy="-3.6">−2</tspan></text>
<line x1="181.5" y1="38.45" x2="183.5" y2="38.45" stroke="#333" stroke-width="0.7"/>
<line x1="295.5" y1="38.45" x2="293.5" y2="38.45" stroke="#333" stroke-width="0.7"/>
<line x1="181.5" y1="29.2" x2="183.5" y2="29.2" stroke="#333" stroke-width="0.7"/>
<line x1="295.5" y1="29.2" x2="293.5" y2="29.2" stroke="#333" stroke-width="0.7"/>
<text x="180.00" y="32.80" font-size="9.5" text-anchor="end" fill="#000">10<tspan font-size="7" dx="0.50" dy="-3.6">0</tspan></text>
<line x1="181.5" y1="19.95" x2="183.5" y2="19.95" stroke="#333" stroke-width="0.7"/>
<line x1="295.5" y1="19.95" x2="293.5" y2="19.95" stroke="#333" stroke-width="0.7"/>
<line x1="181.5" y1="10.7" x2="183.5" y2="10.7" stroke="#333" stroke-width="0.7"/>
<line x1="295.5" y1="10.7" x2="293.5" y2="10.7" stroke="#333" stroke-width="0.7"/>
<text x="180.00" y="14.30" font-size="9.5" text-anchor="end" fill="#000">10<tspan font-size="7" dx="0.50" dy="-3.6">2</tspan></text>
<text x="238.80" y="98.70" font-size="13.4" text-anchor="middle" fill="#000" font-weight="normal">Frequency, Hz</text>
<path d="M0.2,4.2 C0.3,2.0 2.2,0.1 4.8,0.2 M5.4,0.1 C4.7,3.2 3.2,6.6 1.2,9.3 M4.6,4.8 C6.8,3.3 9.4,1.3 11.8,0.8 M4.6,4.8 C6.0,5.6 7.1,7.6 8.0,9.4" transform="translate(151.2 48.2) rotate(-90) scale(1.0)" fill="none" stroke="#000" stroke-width="1.400" stroke-linecap="round"/>
<path d="M0.2,4.2 C0.3,2.0 2.2,0.1 4.8,0.2 M5.4,0.1 C4.7,3.2 3.2,6.6 1.2,9.3 M4.6,4.8 C6.8,3.3 9.4,1.3 11.8,0.8 M4.6,4.8 C6.0,5.6 7.1,7.6 8.0,9.4" transform="translate(186.2 30.6) rotate(0) scale(0.95)" fill="none" stroke="#ff8c00" stroke-width="1.474" stroke-linecap="round"/>
<line x1="196.0" y1="39.8" x2="201.2" y2="39.8" stroke="#ff8c00" stroke-width="0.9"/>
<path d="M0.2,4.2 C0.3,2.0 2.2,0.1 4.8,0.2 M5.4,0.1 C4.7,3.2 3.2,6.6 1.2,9.3 M4.6,4.8 C6.8,3.3 9.4,1.3 11.8,0.8 M4.6,4.8 C6.0,5.6 7.1,7.6 8.0,9.4" transform="translate(207.5 13.8) rotate(0) scale(1.05)" fill="none" stroke="#8c67dd" stroke-width="1.333" stroke-linecap="round"/>
<text x="218.60" y="27.80" font-size="8" text-anchor="middle" fill="#8c67dd" font-weight="normal">+</text>
<g clip-path="url(#cb)">
<line x1="352.5" y1="84.17427271354893" x2="637.5" y2="84.17427271354893" stroke="#000" stroke-width="1.2"/>
<path d="M352.50,-15.15 L353.41,-14.17 L354.32,-13.19 L355.23,-12.21 L356.15,-11.23 L357.06,-10.25 L357.97,-9.27 L358.88,-8.29 L359.79,-7.32 L360.70,-6.34 L361.61,-5.36 L362.53,-4.38 L363.44,-3.40 L364.35,-2.42 L365.26,-1.44 L366.17,-0.46 L367.08,0.52 L367.99,1.50 L368.90,2.48 L369.82,3.46 L370.73,4.44 L371.64,5.41 L372.55,6.39 L373.46,7.37 L374.37,8.35 L375.28,9.33 L376.20,10.31 L377.11,11.29 L378.02,12.27 L378.93,13.24 L379.84,14.22 L380.75,15.20 L381.66,16.18 L382.58,17.16 L383.49,18.13 L384.40,19.11 L385.31,20.09 L386.22,21.07 L387.13,22.04 L388.04,23.02 L388.95,24.00 L389.87,24.97 L390.78,25.95 L391.69,26.92 L392.60,27.90 L393.51,28.87 L394.42,29.85 L395.33,30.82 L396.25,31.79 L397.16,32.76 L398.07,33.73 L398.98,34.71 L399.89,35.67 L400.80,36.64 L401.71,37.61 L402.63,38.58 L403.54,39.54 L404.45,40.51 L405.36,41.47 L406.27,42.43 L407.18,43.39 L408.09,44.35 L409.01,45.30 L409.92,46.25 L410.83,47.20 L411.74,48.15 L412.65,49.09 L413.56,50.04 L414.47,50.97 L415.38,51.91 L416.30,52.84 L417.21,53.76 L418.12,54.68 L419.03,55.60 L419.94,56.51 L420.85,57.41 L421.76,58.30 L422.68,59.19 L423.59,60.07 L424.50,60.95 L425.41,61.81 L426.32,62.66 L427.23,63.51 L428.14,64.34 L429.06,65.16 L429.97,65.97 L430.88,66.76 L431.79,67.54 L432.70,68.31 L433.61,69.06 L434.52,69.79 L435.43,70.50 L436.35,71.20 L437.26,71.88 L438.17,72.54 L439.08,73.18 L439.99,73.80 L440.90,74.40 L441.81,74.97 L442.73,75.53 L443.64,76.06 L444.55,76.57 L445.46,77.06 L446.37,77.52 L447.28,77.96 L448.19,78.38 L449.11,78.78 L450.02,79.16 L450.93,79.52 L451.84,79.85 L452.75,80.17 L453.66,80.46 L454.57,80.74 L455.48,81.00 L456.40,81.25 L457.31,81.47 L458.22,81.68 L459.13,81.88 L460.04,82.06 L460.95,82.23 L461.86,82.39 L462.78,82.53 L463.69,82.67 L464.60,82.79 L465.51,82.90 L466.42,83.01 L467.33,83.11 L468.24,83.20 L469.16,83.28 L470.07,83.35 L470.98,83.42 L471.89,83.49 L472.80,83.55 L473.71,83.60 L474.62,83.65 L475.54,83.69 L476.45,83.73 L477.36,83.77 L478.27,83.81 L479.18,83.84 L480.09,83.87 L481.00,83.89 L481.91,83.92 L482.83,83.94 L483.74,83.96 L484.65,83.98 L485.56,84.00 L486.47,84.01 L487.38,84.03 L488.29,84.04 L489.21,84.05 L490.12,84.06 L491.03,84.07 L491.94,84.08 L492.85,84.09 L493.76,84.10 L494.67,84.10 L495.59,84.11 L496.50,84.11 L497.41,84.12 L498.32,84.12 L499.23,84.13 L500.14,84.13 L501.05,84.14 L501.96,84.14 L502.88,84.14 L503.79,84.15 L504.70,84.15 L505.61,84.15 L506.52,84.15 L507.43,84.15 L508.34,84.16 L509.26,84.16 L510.17,84.16 L511.08,84.16 L511.99,84.16 L512.90,84.16 L513.81,84.16 L514.72,84.16 L515.64,84.17 L516.55,84.17 L517.46,84.17 L518.37,84.17 L519.28,84.17 L520.19,84.17 L521.10,84.17 L522.02,84.17 L522.93,84.17 L523.84,84.17 L524.75,84.17 L525.66,84.17 L526.57,84.17 L527.48,84.17 L528.39,84.17 L529.31,84.17 L530.22,84.17 L531.13,84.17 L532.04,84.17 L532.95,84.17 L533.86,84.17 L534.77,84.17 L535.69,84.17 L536.60,84.17 L537.51,84.17 L538.42,84.17 L539.33,84.17 L540.24,84.17 L541.15,84.17 L542.07,84.17 L542.98,84.17 L543.89,84.17 L544.80,84.17 L545.71,84.17 L546.62,84.17 L547.53,84.17 L548.44,84.17 L549.36,84.17 L550.27,84.17 L551.18,84.17 L552.09,84.17 L553.00,84.17 L553.91,84.17 L554.82,84.17 L555.74,84.17 L556.65,84.17 L557.56,84.17 L558.47,84.17 L559.38,84.17 L560.29,84.17 L561.20,84.17 L562.12,84.17 L563.03,84.17 L563.94,84.17 L564.85,84.17 L565.76,84.17 L566.67,84.17 L567.58,84.17 L568.49,84.17 L569.41,84.17 L570.32,84.17 L571.23,84.17 L572.14,84.17 L573.05,84.17 L573.96,84.17 L574.87,84.17 L575.79,84.17 L576.70,84.17 L577.61,84.17 L578.52,84.17 L579.43,84.17 L580.34,84.17 L581.25,84.17 L582.17,84.17 L583.08,84.17 L583.99,84.17 L584.90,84.17 L585.81,84.17 L586.72,84.17 L587.63,84.17 L588.55,84.17 L589.46,84.17 L590.37,84.17 L591.28,84.17 L592.19,84.17 L593.10,84.17 L594.01,84.17 L594.92,84.17 L595.84,84.17 L596.75,84.17 L597.66,84.17 L598.57,84.17 L599.48,84.17 L600.39,84.17 L601.30,84.17 L602.22,84.17 L603.13,84.17 L604.04,84.17 L604.95,84.17 L605.86,84.17 L606.77,84.17 L607.68,84.17 L608.60,84.17 L609.51,84.17 L610.42,84.17 L611.33,84.17 L612.24,84.17 L613.15,84.17 L614.06,84.17 L614.97,84.17 L615.89,84.17 L616.80,84.17 L617.71,84.17 L618.62,84.17 L619.53,84.17 L620.44,84.17 L621.35,84.17 L622.27,84.17 L623.18,84.17 L624.09,84.17 L625.00,84.17" fill="none" stroke="#808080" stroke-width="2.4" stroke-linejoin="round"/>
<path d="M352.50,77.23 L353.41,77.25 L354.32,77.27 L355.23,77.29 L356.15,77.31 L357.06,77.34 L357.97,77.36 L358.88,77.39 L359.79,77.41 L360.70,77.44 L361.61,77.47 L362.53,77.50 L363.44,77.53 L364.35,77.56 L365.26,77.59 L366.17,77.62 L367.08,77.66 L367.99,77.69 L368.90,77.73 L369.82,77.77 L370.73,77.81 L371.64,77.85 L372.55,77.89 L373.46,77.94 L374.37,77.98 L375.28,78.03 L376.20,78.08 L377.11,78.13 L378.02,78.18 L378.93,78.23 L379.84,78.29 L380.75,78.34 L381.66,78.40 L382.58,78.46 L383.49,78.52 L384.40,78.58 L385.31,78.65 L386.22,78.71 L387.13,78.78 L388.04,78.85 L388.95,78.92 L389.87,78.99 L390.78,79.06 L391.69,79.14 L392.60,79.21 L393.51,79.29 L394.42,79.37 L395.33,79.45 L396.25,79.53 L397.16,79.61 L398.07,79.69 L398.98,79.78 L399.89,79.86 L400.80,79.95 L401.71,80.04 L402.63,80.12 L403.54,80.21 L404.45,80.30 L405.36,80.39 L406.27,80.48 L407.18,80.57 L408.09,80.66 L409.01,80.75 L409.92,80.84 L410.83,80.93 L411.74,81.02 L412.65,81.11 L413.56,81.20 L414.47,81.29 L415.38,81.37 L416.30,81.46 L417.21,81.55 L418.12,81.63 L419.03,81.72 L419.94,81.80 L420.85,81.88 L421.76,81.96 L422.68,82.04 L423.59,82.12 L424.50,82.20 L425.41,82.27 L426.32,82.35 L427.23,82.42 L428.14,82.49 L429.06,82.56 L429.97,82.62 L430.88,82.69 L431.79,82.75 L432.70,82.81 L433.61,82.87 L434.52,82.93 L435.43,82.99 L436.35,83.04 L437.26,83.09 L438.17,83.14 L439.08,83.19 L439.99,83.24 L440.90,83.29 L441.81,83.33 L442.73,83.37 L443.64,83.41 L444.55,83.45 L445.46,83.49 L446.37,83.53 L447.28,83.56 L448.19,83.59 L449.11,83.62 L450.02,83.65 L450.93,83.68 L451.84,83.71 L452.75,83.74 L453.66,83.76 L454.57,83.79 L455.48,83.81 L456.40,83.83 L457.31,83.85 L458.22,83.87 L459.13,83.89 L460.04,83.90 L460.95,83.92 L461.86,83.94 L462.78,83.95 L463.69,83.97 L464.60,83.98 L465.51,83.99 L466.42,84.00 L467.33,84.01 L468.24,84.02 L469.16,84.03 L470.07,84.04 L470.98,84.05 L471.89,84.06 L472.80,84.07 L473.71,84.08 L474.62,84.08 L475.54,84.09 L476.45,84.10 L477.36,84.10 L478.27,84.11 L479.18,84.11 L480.09,84.12 L481.00,84.12 L481.91,84.12 L482.83,84.13 L483.74,84.13 L484.65,84.13 L485.56,84.14 L486.47,84.14 L487.38,84.14 L488.29,84.15 L489.21,84.15 L490.12,84.15 L491.03,84.15 L491.94,84.15 L492.85,84.16 L493.76,84.16 L494.67,84.16 L495.59,84.16 L496.50,84.16 L497.41,84.16 L498.32,84.16 L499.23,84.16 L500.14,84.16 L501.05,84.17 L501.96,84.17 L502.88,84.17 L503.79,84.17 L504.70,84.17 L505.61,84.17 L506.52,84.17 L507.43,84.17 L508.34,84.17 L509.26,84.17 L510.17,84.17 L511.08,84.17 L511.99,84.17 L512.90,84.17 L513.81,84.17 L514.72,84.17 L515.64,84.17 L516.55,84.17 L517.46,84.17 L518.37,84.17 L519.28,84.17 L520.19,84.17 L521.10,84.17 L522.02,84.17 L522.93,84.17 L523.84,84.17 L524.75,84.17 L525.66,84.17 L526.57,84.17 L527.48,84.17 L528.39,84.17 L529.31,84.17 L530.22,84.17 L531.13,84.17 L532.04,84.17 L532.95,84.17 L533.86,84.17 L534.77,84.17 L535.69,84.17 L536.60,84.17 L537.51,84.17 L538.42,84.17 L539.33,84.17 L540.24,84.17 L541.15,84.17 L542.07,84.17 L542.98,84.17 L543.89,84.17 L544.80,84.17 L545.71,84.17 L546.62,84.17 L547.53,84.17 L548.44,84.17 L549.36,84.17 L550.27,84.17 L551.18,84.17 L552.09,84.17 L553.00,84.17 L553.91,84.17 L554.82,84.17 L555.74,84.17 L556.65,84.17 L557.56,84.17 L558.47,84.17 L559.38,84.17 L560.29,84.17 L561.20,84.17 L562.12,84.17 L563.03,84.17 L563.94,84.17 L564.85,84.17 L565.76,84.17 L566.67,84.17 L567.58,84.17 L568.49,84.17 L569.41,84.17 L570.32,84.17 L571.23,84.17 L572.14,84.17 L573.05,84.17 L573.96,84.17 L574.87,84.17 L575.79,84.17 L576.70,84.17 L577.61,84.17 L578.52,84.17 L579.43,84.17 L580.34,84.17 L581.25,84.17 L582.17,84.17 L583.08,84.17 L583.99,84.17 L584.90,84.17 L585.81,84.17 L586.72,84.17 L587.63,84.17 L588.55,84.17 L589.46,84.17 L590.37,84.17 L591.28,84.17 L592.19,84.17 L593.10,84.17 L594.01,84.17 L594.92,84.17 L595.84,84.17 L596.75,84.17 L597.66,84.17 L598.57,84.17 L599.48,84.17 L600.39,84.17 L601.30,84.17 L602.22,84.17 L603.13,84.17 L604.04,84.17 L604.95,84.17 L605.86,84.17 L606.77,84.17 L607.68,84.17 L608.60,84.17 L609.51,84.17 L610.42,84.17 L611.33,84.17 L612.24,84.17 L613.15,84.17 L614.06,84.17 L614.97,84.17 L615.89,84.17 L616.80,84.17 L617.71,84.17 L618.62,84.17 L619.53,84.17 L620.44,84.17 L621.35,84.17 L622.27,84.17 L623.18,84.17 L624.09,84.17 L625.00,84.17" fill="none" stroke="#ff8c00" stroke-width="2.5" stroke-dasharray="6.2,1.8" stroke-linejoin="round"/>
<path d="M352.50,-11.20 L353.41,-10.81 L354.32,-10.38 L355.23,-9.91 L356.15,-9.42 L357.06,-8.90 L357.97,-8.34 L358.88,-7.76 L359.79,-7.15 L360.70,-6.52 L361.61,-5.86 L362.53,-5.17 L363.44,-4.46 L364.35,-3.73 L365.26,-2.98 L366.17,-2.20 L367.08,-1.41 L367.99,-0.60 L368.90,0.24 L369.82,1.09 L370.73,1.96 L371.64,2.84 L372.55,3.74 L373.46,4.66 L374.37,5.59 L375.28,6.54 L376.20,7.50 L377.11,8.47 L378.02,9.45 L378.93,10.45 L379.84,11.46 L380.75,12.48 L381.66,13.51 L382.58,14.55 L383.49,15.60 L384.40,16.66 L385.31,17.73 L386.22,18.81 L387.13,19.89 L388.04,20.98 L388.95,22.09 L389.87,23.19 L390.78,24.31 L391.69,25.43 L392.60,26.55 L393.51,27.69 L394.42,28.82 L395.33,29.97 L396.25,31.12 L397.16,32.27 L398.07,33.42 L398.98,34.58 L399.89,35.75 L400.80,36.91 L401.71,38.08 L402.63,39.25 L403.54,40.42 L404.45,41.60 L405.36,42.77 L406.27,43.95 L407.18,45.13 L408.09,46.30 L409.01,47.48 L409.92,48.65 L410.83,49.82 L411.74,50.99 L412.65,52.15 L413.56,53.32 L414.47,54.47 L415.38,55.62 L416.30,56.76 L417.21,57.89 L418.12,59.02 L419.03,60.13 L419.94,61.23 L420.85,62.32 L421.76,63.40 L422.68,64.45 L423.59,65.49 L424.50,66.51 L425.41,67.51 L426.32,68.48 L427.23,69.43 L428.14,70.36 L429.06,71.25 L429.97,72.12 L430.88,72.95 L431.79,73.75 L432.70,74.51 L433.61,75.25 L434.52,75.94 L435.43,76.60 L436.35,77.22 L437.26,77.81 L438.17,78.35 L439.08,78.87 L439.99,79.34 L440.90,79.79 L441.81,80.20 L442.73,80.57 L443.64,80.92 L444.55,81.24 L445.46,81.53 L446.37,81.79 L447.28,82.04 L448.19,82.26 L449.11,82.45 L450.02,82.63 L450.93,82.80 L451.84,82.94 L452.75,83.07 L453.66,83.19 L454.57,83.30 L455.48,83.39 L456.40,83.48 L457.31,83.55 L458.22,83.62 L459.13,83.68 L460.04,83.74 L460.95,83.78 L461.86,83.83 L462.78,83.87 L463.69,83.90 L464.60,83.93 L465.51,83.96 L466.42,83.98 L467.33,84.00 L468.24,84.02 L469.16,84.04 L470.07,84.05 L470.98,84.07 L471.89,84.08 L472.80,84.09 L473.71,84.10 L474.62,84.11 L475.54,84.12 L476.45,84.12 L477.36,84.13 L478.27,84.13 L479.18,84.14 L480.09,84.14 L481.00,84.15 L481.91,84.15 L482.83,84.15 L483.74,84.15 L484.65,84.16 L485.56,84.16 L486.47,84.16 L487.38,84.16 L488.29,84.16 L489.21,84.16 L490.12,84.17 L491.03,84.17 L491.94,84.17 L492.85,84.17 L493.76,84.17 L494.67,84.17 L495.59,84.17 L496.50,84.17 L497.41,84.17 L498.32,84.17 L499.23,84.17 L500.14,84.17 L501.05,84.17 L501.96,84.17 L502.88,84.17 L503.79,84.17 L504.70,84.17 L505.61,84.17 L506.52,84.17 L507.43,84.17 L508.34,84.17 L509.26,84.17 L510.17,84.17 L511.08,84.17 L511.99,84.17 L512.90,84.17 L513.81,84.17 L514.72,84.17 L515.64,84.17 L516.55,84.17 L517.46,84.17 L518.37,84.17 L519.28,84.17 L520.19,84.17 L521.10,84.17 L522.02,84.17 L522.93,84.17 L523.84,84.17 L524.75,84.17 L525.66,84.17 L526.57,84.17 L527.48,84.17 L528.39,84.17 L529.31,84.17 L530.22,84.17 L531.13,84.17 L532.04,84.17 L532.95,84.17 L533.86,84.17 L534.77,84.17 L535.69,84.17 L536.60,84.17 L537.51,84.17 L538.42,84.17 L539.33,84.17 L540.24,84.17 L541.15,84.17 L542.07,84.17 L542.98,84.17 L543.89,84.17 L544.80,84.17 L545.71,84.17 L546.62,84.17 L547.53,84.17 L548.44,84.17 L549.36,84.17 L550.27,84.17 L551.18,84.17 L552.09,84.17 L553.00,84.17 L553.91,84.17 L554.82,84.17 L555.74,84.17 L556.65,84.17 L557.56,84.17 L558.47,84.17 L559.38,84.17 L560.29,84.17 L561.20,84.17 L562.12,84.17 L563.03,84.17 L563.94,84.17 L564.85,84.17 L565.76,84.17 L566.67,84.17 L567.58,84.17 L568.49,84.17 L569.41,84.17 L570.32,84.17 L571.23,84.17 L572.14,84.17 L573.05,84.17 L573.96,84.17 L574.87,84.17 L575.79,84.17 L576.70,84.17 L577.61,84.17 L578.52,84.17 L579.43,84.17 L580.34,84.17 L581.25,84.17 L582.17,84.17 L583.08,84.17 L583.99,84.17 L584.90,84.17 L585.81,84.17 L586.72,84.17 L587.63,84.17 L588.55,84.17 L589.46,84.17 L590.37,84.17 L591.28,84.17 L592.19,84.17 L593.10,84.17 L594.01,84.17 L594.92,84.17 L595.84,84.17 L596.75,84.17 L597.66,84.17 L598.57,84.17 L599.48,84.17 L600.39,84.17 L601.30,84.17 L602.22,84.17 L603.13,84.17 L604.04,84.17 L604.95,84.17 L605.86,84.17 L606.77,84.17 L607.68,84.17 L608.60,84.17 L609.51,84.17 L610.42,84.17 L611.33,84.17 L612.24,84.17 L613.15,84.17 L614.06,84.17 L614.97,84.17 L615.89,84.17 L616.80,84.17 L617.71,84.17 L618.62,84.17 L619.53,84.17 L620.44,84.17 L621.35,84.17 L622.27,84.17 L623.18,84.17 L624.09,84.17 L625.00,84.17" fill="none" stroke="#8c67dd" stroke-width="2.5" stroke-dasharray="5.7,2.3,2.1,2.3" stroke-linejoin="round"/>
</g>
<rect x="352.5" y="0.5" width="285.0" height="98.5" fill="none" stroke="#333" stroke-width="1"/>
<line x1="352.5" y1="99.0" x2="352.5" y2="97.5" stroke="#333" stroke-width="0.8"/>
<line x1="352.5" y1="0.5" x2="352.5" y2="2.0" stroke="#333" stroke-width="0.8"/>
<line x1="360.02221837452436" y1="99.0" x2="360.02221837452436" y2="97.5" stroke="#333" stroke-width="0.8"/>
<line x1="360.02221837452436" y1="0.5" x2="360.02221837452436" y2="2.0" stroke="#333" stroke-width="0.8"/>
<line x1="366.3821633894326" y1="99.0" x2="366.3821633894326" y2="97.5" stroke="#333" stroke-width="0.8"/>
<line x1="366.3821633894326" y1="0.5" x2="366.3821633894326" y2="2.0" stroke="#333" stroke-width="0.8"/>
<line x1="371.8913983523128" y1="99.0" x2="371.8913983523128" y2="97.5" stroke="#333" stroke-width="0.8"/>
<line x1="371.8913983523128" y1="0.5" x2="371.8913983523128" y2="2.0" stroke="#333" stroke-width="0.8"/>
<line x1="376.7508879848141" y1="99.0" x2="376.7508879848141" y2="97.5" stroke="#333" stroke-width="0.8"/>
<line x1="376.7508879848141" y1="0.5" x2="376.7508879848141" y2="2.0" stroke="#333" stroke-width="0.8"/>
<line x1="381.0978495880782" y1="99.0" x2="381.0978495880782" y2="96.0" stroke="#333" stroke-width="0.8"/>
<line x1="381.0978495880782" y1="0.5" x2="381.0978495880782" y2="3.5" stroke="#333" stroke-width="0.8"/>
<line x1="409.69569917615644" y1="99.0" x2="409.69569917615644" y2="97.5" stroke="#333" stroke-width="0.8"/>
<line x1="409.69569917615644" y1="0.5" x2="409.69569917615644" y2="2.0" stroke="#333" stroke-width="0.8"/>
<line x1="426.42436878644617" y1="99.0" x2="426.42436878644617" y2="97.5" stroke="#333" stroke-width="0.8"/>
<line x1="426.42436878644617" y1="0.5" x2="426.42436878644617" y2="2.0" stroke="#333" stroke-width="0.8"/>
<line x1="438.29354876423463" y1="99.0" x2="438.29354876423463" y2="97.5" stroke="#333" stroke-width="0.8"/>
<line x1="438.29354876423463" y1="0.5" x2="438.29354876423463" y2="2.0" stroke="#333" stroke-width="0.8"/>
<line x1="447.5" y1="99.0" x2="447.5" y2="97.5" stroke="#333" stroke-width="0.8"/>
<line x1="447.5" y1="0.5" x2="447.5" y2="2.0" stroke="#333" stroke-width="0.8"/>
<line x1="455.02221837452436" y1="99.0" x2="455.02221837452436" y2="97.5" stroke="#333" stroke-width="0.8"/>
<line x1="455.02221837452436" y1="0.5" x2="455.02221837452436" y2="2.0" stroke="#333" stroke-width="0.8"/>
<line x1="461.38216338943266" y1="99.0" x2="461.38216338943266" y2="97.5" stroke="#333" stroke-width="0.8"/>
<line x1="461.38216338943266" y1="0.5" x2="461.38216338943266" y2="2.0" stroke="#333" stroke-width="0.8"/>
<line x1="466.8913983523128" y1="99.0" x2="466.8913983523128" y2="97.5" stroke="#333" stroke-width="0.8"/>
<line x1="466.8913983523128" y1="0.5" x2="466.8913983523128" y2="2.0" stroke="#333" stroke-width="0.8"/>
<line x1="471.7508879848141" y1="99.0" x2="471.7508879848141" y2="97.5" stroke="#333" stroke-width="0.8"/>
<line x1="471.7508879848141" y1="0.5" x2="471.7508879848141" y2="2.0" stroke="#333" stroke-width="0.8"/>
<line x1="476.09784958807825" y1="99.0" x2="476.09784958807825" y2="96.0" stroke="#333" stroke-width="0.8"/>
<line x1="476.09784958807825" y1="0.5" x2="476.09784958807825" y2="3.5" stroke="#333" stroke-width="0.8"/>
<line x1="504.69569917615644" y1="99.0" x2="504.69569917615644" y2="97.5" stroke="#333" stroke-width="0.8"/>
<line x1="504.69569917615644" y1="0.5" x2="504.69569917615644" y2="2.0" stroke="#333" stroke-width="0.8"/>
<line x1="521.4243687864462" y1="99.0" x2="521.4243687864462" y2="97.5" stroke="#333" stroke-width="0.8"/>
<line x1="521.4243687864462" y1="0.5" x2="521.4243687864462" y2="2.0" stroke="#333" stroke-width="0.8"/>
<line x1="533.2935487642346" y1="99.0" x2="533.2935487642346" y2="97.5" stroke="#333" stroke-width="0.8"/>
<line x1="533.2935487642346" y1="0.5" x2="533.2935487642346" y2="2.0" stroke="#333" stroke-width="0.8"/>
<line x1="542.5" y1="99.0" x2="542.5" y2="97.5" stroke="#333" stroke-width="0.8"/>
<line x1="542.5" y1="0.5" x2="542.5" y2="2.0" stroke="#333" stroke-width="0.8"/>
<line x1="550.0222183745243" y1="99.0" x2="550.0222183745243" y2="97.5" stroke="#333" stroke-width="0.8"/>
<line x1="550.0222183745243" y1="0.5" x2="550.0222183745243" y2="2.0" stroke="#333" stroke-width="0.8"/>
<line x1="556.3821633894327" y1="99.0" x2="556.3821633894327" y2="97.5" stroke="#333" stroke-width="0.8"/>
<line x1="556.3821633894327" y1="0.5" x2="556.3821633894327" y2="2.0" stroke="#333" stroke-width="0.8"/>
<line x1="561.8913983523129" y1="99.0" x2="561.8913983523129" y2="97.5" stroke="#333" stroke-width="0.8"/>
<line x1="561.8913983523129" y1="0.5" x2="561.8913983523129" y2="2.0" stroke="#333" stroke-width="0.8"/>
<line x1="566.7508879848141" y1="99.0" x2="566.7508879848141" y2="97.5" stroke="#333" stroke-width="0.8"/>
<line x1="566.7508879848141" y1="0.5" x2="566.7508879848141" y2="2.0" stroke="#333" stroke-width="0.8"/>
<line x1="571.0978495880782" y1="99.0" x2="571.0978495880782" y2="96.0" stroke="#333" stroke-width="0.8"/>
<line x1="571.0978495880782" y1="0.5" x2="571.0978495880782" y2="3.5" stroke="#333" stroke-width="0.8"/>
<line x1="599.6956991761565" y1="99.0" x2="599.6956991761565" y2="97.5" stroke="#333" stroke-width="0.8"/>
<line x1="599.6956991761565" y1="0.5" x2="599.6956991761565" y2="2.0" stroke="#333" stroke-width="0.8"/>
<line x1="616.4243687864462" y1="99.0" x2="616.4243687864462" y2="97.5" stroke="#333" stroke-width="0.8"/>
<line x1="616.4243687864462" y1="0.5" x2="616.4243687864462" y2="2.0" stroke="#333" stroke-width="0.8"/>
<line x1="628.2935487642346" y1="99.0" x2="628.2935487642346" y2="97.5" stroke="#333" stroke-width="0.8"/>
<line x1="628.2935487642346" y1="0.5" x2="628.2935487642346" y2="2.0" stroke="#333" stroke-width="0.8"/>
<line x1="637.5" y1="99.0" x2="637.5" y2="97.5" stroke="#333" stroke-width="0.8"/>
<line x1="637.5" y1="0.5" x2="637.5" y2="2.0" stroke="#333" stroke-width="0.8"/>
<line x1="352.5" y1="99.0" x2="354.0" y2="99.0" stroke="#333" stroke-width="0.8"/>
<line x1="637.5" y1="99.0" x2="636.0" y2="99.0" stroke="#333" stroke-width="0.8"/>
<line x1="352.5" y1="95.10032363215447" x2="354.0" y2="95.10032363215447" stroke="#333" stroke-width="0.8"/>
<line x1="637.5" y1="95.10032363215447" x2="636.0" y2="95.10032363215447" stroke="#333" stroke-width="0.8"/>
<line x1="352.5" y1="91.80319424284677" x2="354.0" y2="91.80319424284677" stroke="#333" stroke-width="0.8"/>
<line x1="637.5" y1="91.80319424284677" x2="636.0" y2="91.80319424284677" stroke="#333" stroke-width="0.8"/>
<line x1="352.5" y1="88.94709085419571" x2="354.0" y2="88.94709085419571" stroke="#333" stroke-width="0.8"/>
<line x1="637.5" y1="88.94709085419571" x2="636.0" y2="88.94709085419571" stroke="#333" stroke-width="0.8"/>
<line x1="352.5" y1="86.42782912366218" x2="354.0" y2="86.42782912366218" stroke="#333" stroke-width="0.8"/>
<line x1="637.5" y1="86.42782912366218" x2="636.0" y2="86.42782912366218" stroke="#333" stroke-width="0.8"/>
<line x1="352.5" y1="84.17427271354893" x2="355.5" y2="84.17427271354893" stroke="#333" stroke-width="0.8"/>
<line x1="637.5" y1="84.17427271354893" x2="634.5" y2="84.17427271354893" stroke="#333" stroke-width="0.8"/>
<line x1="352.5" y1="69.34854542709785" x2="354.0" y2="69.34854542709785" stroke="#333" stroke-width="0.8"/>
<line x1="637.5" y1="69.34854542709785" x2="636.0" y2="69.34854542709785" stroke="#333" stroke-width="0.8"/>
<line x1="352.5" y1="60.676050918605554" x2="354.0" y2="60.676050918605554" stroke="#333" stroke-width="0.8"/>
<line x1="637.5" y1="60.676050918605554" x2="636.0" y2="60.676050918605554" stroke="#333" stroke-width="0.8"/>
<line x1="352.5" y1="54.52281814064677" x2="354.0" y2="54.52281814064677" stroke="#333" stroke-width="0.8"/>
<line x1="637.5" y1="54.52281814064677" x2="636.0" y2="54.52281814064677" stroke="#333" stroke-width="0.8"/>
<line x1="352.5" y1="49.74999999999999" x2="354.0" y2="49.74999999999999" stroke="#333" stroke-width="0.8"/>
<line x1="637.5" y1="49.74999999999999" x2="636.0" y2="49.74999999999999" stroke="#333" stroke-width="0.8"/>
<line x1="352.5" y1="45.85032363215448" x2="354.0" y2="45.85032363215448" stroke="#333" stroke-width="0.8"/>
<line x1="637.5" y1="45.85032363215448" x2="636.0" y2="45.85032363215448" stroke="#333" stroke-width="0.8"/>
<line x1="352.5" y1="42.55319424284678" x2="354.0" y2="42.55319424284678" stroke="#333" stroke-width="0.8"/>
<line x1="637.5" y1="42.55319424284678" x2="636.0" y2="42.55319424284678" stroke="#333" stroke-width="0.8"/>
<line x1="352.5" y1="39.69709085419571" x2="354.0" y2="39.69709085419571" stroke="#333" stroke-width="0.8"/>
<line x1="637.5" y1="39.69709085419571" x2="636.0" y2="39.69709085419571" stroke="#333" stroke-width="0.8"/>
<line x1="352.5" y1="37.17782912366217" x2="354.0" y2="37.17782912366217" stroke="#333" stroke-width="0.8"/>
<line x1="637.5" y1="37.17782912366217" x2="636.0" y2="37.17782912366217" stroke="#333" stroke-width="0.8"/>
<line x1="352.5" y1="34.92427271354892" x2="355.5" y2="34.92427271354892" stroke="#333" stroke-width="0.8"/>
<line x1="637.5" y1="34.92427271354892" x2="634.5" y2="34.92427271354892" stroke="#333" stroke-width="0.8"/>
<line x1="352.5" y1="20.098545427097847" x2="354.0" y2="20.098545427097847" stroke="#333" stroke-width="0.8"/>
<line x1="637.5" y1="20.098545427097847" x2="636.0" y2="20.098545427097847" stroke="#333" stroke-width="0.8"/>
<line x1="352.5" y1="11.42605091860555" x2="354.0" y2="11.42605091860555" stroke="#333" stroke-width="0.8"/>
<line x1="637.5" y1="11.42605091860555" x2="636.0" y2="11.42605091860555" stroke="#333" stroke-width="0.8"/>
<line x1="352.5" y1="5.27281814064677" x2="354.0" y2="5.27281814064677" stroke="#333" stroke-width="0.8"/>
<line x1="637.5" y1="5.27281814064677" x2="636.0" y2="5.27281814064677" stroke="#333" stroke-width="0.8"/>
<line x1="352.5" y1="0.5" x2="354.0" y2="0.5" stroke="#333" stroke-width="0.8"/>
<line x1="637.5" y1="0.5" x2="636.0" y2="0.5" stroke="#333" stroke-width="0.8"/>
<text x="639.10" y="89.47" font-size="14" text-anchor="start" fill="#000">10<tspan font-size="10" dx="0.00" dy="-5.4">0</tspan></text>
<text x="639.10" y="40.22" font-size="14" text-anchor="start" fill="#000">10<tspan font-size="10" dx="0.00" dy="-5.4">1</tspan></text>
<text x="355.80" y="16.30" font-size="16.2" text-anchor="start" fill="#000" font-weight="bold" stroke="#000" stroke-width="0.3">(b)</text>
<text x="362.50" y="95.20" font-size="14.9" text-anchor="start" fill="#000" font-weight="normal">shot noise level</text>
<text x="672.00" y="48.60" font-size="17.5" text-anchor="middle" fill="#000" font-weight="normal" transform="rotate(-90 672 48.6)">QN Δb<tspan font-size="12" dy="3">s</tspan></text>
<g clip-path="url(#cc)">
<path d="M352.50,188.77 L353.45,188.35 L354.41,187.93 L355.36,187.50 L356.31,187.08 L357.27,186.66 L358.22,186.24 L359.17,185.82 L360.13,185.40 L361.08,184.98 L362.03,184.56 L362.98,184.15 L363.94,183.73 L364.89,183.32 L365.84,182.90 L366.80,182.49 L367.75,182.08 L368.70,181.66 L369.66,181.25 L370.61,180.85 L371.56,180.44 L372.52,180.03 L373.47,179.62 L374.42,179.22 L375.38,178.82 L376.33,178.42 L377.28,178.01 L378.24,177.62 L379.19,177.22 L380.14,176.82 L381.10,176.43 L382.05,176.04 L383.00,175.65 L383.95,175.26 L384.91,174.87 L385.86,174.49 L386.81,174.11 L387.77,173.73 L388.72,173.35 L389.67,172.97 L390.63,172.60 L391.58,172.23 L392.53,171.86 L393.49,171.50 L394.44,171.13 L395.39,170.78 L396.35,170.42 L397.30,170.07 L398.25,169.72 L399.21,169.37 L400.16,169.02 L401.11,168.68 L402.07,168.35 L403.02,168.01 L403.97,167.68 L404.92,167.36 L405.88,167.04 L406.83,166.72 L407.78,166.40 L408.74,166.09 L409.69,165.79 L410.64,165.49 L411.60,165.19 L412.55,164.90 L413.50,164.61 L414.46,164.33 L415.41,164.05 L416.36,163.78 L417.32,163.51 L418.27,163.25 L419.22,162.99 L420.18,162.73 L421.13,162.48 L422.08,162.24 L423.04,162.00 L423.99,161.77 L424.94,161.54 L425.89,161.32 L426.85,161.10 L427.80,160.89 L428.75,160.68 L429.71,160.48 L430.66,160.29 L431.61,160.10 L432.57,159.91 L433.52,159.73 L434.47,159.56 L435.43,159.39 L436.38,159.23 L437.33,159.07 L438.29,158.91 L439.24,158.76 L440.19,158.62 L441.15,158.48 L442.10,158.35 L443.05,158.22 L444.01,158.10 L444.96,157.98 L445.91,157.87 L446.86,157.76 L447.82,157.66 L448.77,157.56 L449.72,157.46 L450.68,157.37 L451.63,157.29 L452.58,157.21 L453.54,157.13 L454.49,157.06 L455.44,156.99 L456.40,156.92 L457.35,156.86 L458.30,156.81 L459.26,156.76 L460.21,156.71 L461.16,156.67 L462.12,156.63 L463.07,156.59 L464.02,156.56 L464.97,156.53 L465.93,156.50 L466.88,156.48 L467.83,156.46 L468.79,156.45 L469.74,156.44 L470.69,156.43 L471.65,156.43 L472.60,156.43 L473.55,156.43 L474.51,156.44 L475.46,156.45 L476.41,156.47 L477.37,156.49 L478.32,156.51 L479.27,156.53 L480.23,156.56 L481.18,156.60 L482.13,156.63 L483.09,156.67 L484.04,156.72 L484.99,156.77 L485.94,156.82 L486.90,156.87 L487.85,156.93 L488.80,157.00 L489.76,157.06 L490.71,157.14 L491.66,157.21 L492.62,157.29 L493.57,157.38 L494.52,157.46 L495.48,157.56 L496.43,157.66 L497.38,157.76 L498.34,157.87 L499.29,157.98 L500.24,158.09 L501.20,158.22 L502.15,158.34 L503.10,158.47 L504.06,158.61 L505.01,158.75 L505.96,158.90 L506.91,159.05 L507.87,159.21 L508.82,159.38 L509.77,159.54 L510.73,159.72 L511.68,159.90 L512.63,160.09 L513.59,160.28 L514.54,160.48 L515.49,160.68 L516.45,160.89 L517.40,161.11 L518.35,161.33 L519.31,161.56 L520.26,161.79 L521.21,162.03 L522.17,162.27 L523.12,162.53 L524.07,162.78 L525.03,163.05 L525.98,163.32 L526.93,163.60 L527.88,163.88 L528.84,164.17 L529.79,164.46 L530.74,164.76 L531.70,165.07 L532.65,165.38 L533.60,165.69 L534.56,166.02 L535.51,166.35 L536.46,166.68 L537.42,167.02 L538.37,167.36 L539.32,167.71 L540.28,168.07 L541.23,168.43 L542.18,168.79 L543.14,169.16 L544.09,169.54 L545.04,169.92 L545.99,170.30 L546.95,170.69 L547.90,171.08 L548.85,171.48 L549.81,171.88 L550.76,172.29 L551.71,172.70 L552.67,173.11 L553.62,173.53 L554.57,173.95 L555.53,174.38 L556.48,174.80 L557.43,175.23 L558.39,175.67 L559.34,176.11 L560.29,176.55 L561.25,176.99 L562.20,177.44 L563.15,177.89 L564.11,178.34 L565.06,178.79 L566.01,179.25 L566.96,179.71 L567.92,180.17 L568.87,180.63 L569.82,181.10 L570.78,181.57 L571.73,182.04 L572.68,182.51 L573.64,182.98 L574.59,183.46 L575.54,183.93 L576.50,184.41 L577.45,184.89 L578.40,185.37 L579.36,185.86 L580.31,186.34 L581.26,186.83 L582.22,187.31 L583.17,187.80 L584.12,188.29 L585.08,188.78 L586.03,189.27 L586.98,189.77 L587.93,190.26 L588.89,190.76 L589.84,191.25 L590.79,191.75 L591.75,192.25 L592.70,192.74 L593.65,193.24 L594.61,193.74 L595.56,194.24 L596.51,194.74 L597.47,195.25 L598.42,195.75 L599.37,196.25 L600.33,196.76 L601.28,197.26 L602.23,197.76 L603.19,198.27 L604.14,198.78 L605.09,199.28 L606.05,199.79 L607.00,200.29 L607.95,200.80 L608.90,201.31 L609.86,201.82 L610.81,202.33 L611.76,202.84 L612.72,203.34 L613.67,203.85 L614.62,204.36 L615.58,204.87 L616.53,205.38 L617.48,205.89 L618.44,206.41 L619.39,206.92 L620.34,207.43 L621.30,207.94 L622.25,208.45 L623.20,208.96 L624.16,209.47 L625.11,209.99 L626.06,210.50 L627.02,211.01 L627.97,211.52 L628.92,212.04 L629.87,212.55 L630.83,213.06 L631.78,213.58 L632.73,214.09 L633.69,214.60 L634.64,215.12 L635.59,215.63 L636.55,216.14 L637.50,216.66" fill="none" stroke="#ff8c00" stroke-width="2.5" stroke-dasharray="6.2,1.8" stroke-linejoin="round"/>
<path d="M352.50,133.56 L353.45,133.56 L354.41,133.56 L355.36,133.56 L356.31,133.56 L357.27,133.56 L358.22,133.56 L359.17,133.56 L360.13,133.56 L361.08,133.56 L362.03,133.56 L362.98,133.56 L363.94,133.56 L364.89,133.56 L365.84,133.56 L366.80,133.56 L367.75,133.56 L368.70,133.56 L369.66,133.56 L370.61,133.56 L371.56,133.56 L372.52,133.56 L373.47,133.56 L374.42,133.56 L375.38,133.56 L376.33,133.56 L377.28,133.56 L378.24,133.56 L379.19,133.56 L380.14,133.56 L381.10,133.56 L382.05,133.56 L383.00,133.56 L383.95,133.56 L384.91,133.56 L385.86,133.56 L386.81,133.56 L387.77,133.56 L388.72,133.56 L389.67,133.56 L390.63,133.56 L391.58,133.56 L392.53,133.56 L393.49,133.56 L394.44,133.56 L395.39,133.56 L396.35,133.56 L397.30,133.56 L398.25,133.56 L399.21,133.56 L400.16,133.56 L401.11,133.56 L402.07,133.56 L403.02,133.56 L403.97,133.56 L404.92,133.56 L405.88,133.56 L406.83,133.56 L407.78,133.56 L408.74,133.57 L409.69,133.57 L410.64,133.57 L411.60,133.57 L412.55,133.57 L413.50,133.57 L414.46,133.57 L415.41,133.57 L416.36,133.58 L417.32,133.58 L418.27,133.58 L419.22,133.58 L420.18,133.58 L421.13,133.59 L422.08,133.59 L423.04,133.59 L423.99,133.59 L424.94,133.60 L425.89,133.60 L426.85,133.61 L427.80,133.61 L428.75,133.61 L429.71,133.62 L430.66,133.62 L431.61,133.63 L432.57,133.64 L433.52,133.64 L434.47,133.65 L435.43,133.66 L436.38,133.67 L437.33,133.68 L438.29,133.69 L439.24,133.70 L440.19,133.71 L441.15,133.73 L442.10,133.74 L443.05,133.76 L444.01,133.77 L444.96,133.79 L445.91,133.81 L446.86,133.83 L447.82,133.85 L448.77,133.88 L449.72,133.91 L450.68,133.93 L451.63,133.97 L452.58,134.00 L453.54,134.04 L454.49,134.08 L455.44,134.12 L456.40,134.16 L457.35,134.21 L458.30,134.27 L459.26,134.32 L460.21,134.39 L461.16,134.45 L462.12,134.52 L463.07,134.60 L464.02,134.68 L464.97,134.77 L465.93,134.86 L466.88,134.96 L467.83,135.06 L468.79,135.18 L469.74,135.30 L470.69,135.43 L471.65,135.56 L472.60,135.71 L473.55,135.86 L474.51,136.02 L475.46,136.19 L476.41,136.37 L477.37,136.56 L478.32,136.76 L479.27,136.97 L480.23,137.19 L481.18,137.41 L482.13,137.65 L483.09,137.90 L484.04,138.16 L484.99,138.43 L485.94,138.71 L486.90,139.00 L487.85,139.29 L488.80,139.60 L489.76,139.92 L490.71,140.25 L491.66,140.58 L492.62,140.92 L493.57,141.28 L494.52,141.64 L495.48,142.00 L496.43,142.38 L497.38,142.76 L498.34,143.15 L499.29,143.55 L500.24,143.95 L501.20,144.36 L502.15,144.77 L503.10,145.19 L504.06,145.61 L505.01,146.04 L505.96,146.47 L506.91,146.91 L507.87,147.35 L508.82,147.80 L509.77,148.24 L510.73,148.70 L511.68,149.15 L512.63,149.61 L513.59,150.07 L514.54,150.53 L515.49,150.99 L516.45,151.46 L517.40,151.93 L518.35,152.40 L519.31,152.87 L520.26,153.34 L521.21,153.81 L522.17,154.29 L523.12,154.77 L524.07,155.25 L525.03,155.72 L525.98,156.20 L526.93,156.69 L527.88,157.17 L528.84,157.65 L529.79,158.13 L530.74,158.62 L531.70,159.10 L532.65,159.59 L533.60,160.07 L534.56,160.56 L535.51,161.05 L536.46,161.53 L537.42,162.02 L538.37,162.51 L539.32,163.00 L540.28,163.49 L541.23,163.97 L542.18,164.46 L543.14,164.95 L544.09,165.44 L545.04,165.93 L545.99,166.42 L546.95,166.91 L547.90,167.40 L548.85,167.89 L549.81,168.38 L550.76,168.87 L551.71,169.36 L552.67,169.85 L553.62,170.34 L554.57,170.83 L555.53,171.33 L556.48,171.82 L557.43,172.31 L558.39,172.80 L559.34,173.29 L560.29,173.78 L561.25,174.27 L562.20,174.76 L563.15,175.26 L564.11,175.75 L565.06,176.24 L566.01,176.73 L566.96,177.22 L567.92,177.71 L568.87,178.20 L569.82,178.70 L570.78,179.19 L571.73,179.68 L572.68,180.17 L573.64,180.66 L574.59,181.15 L575.54,181.65 L576.50,182.14 L577.45,182.63 L578.40,183.12 L579.36,183.61 L580.31,184.10 L581.26,184.60 L582.22,185.09 L583.17,185.58 L584.12,186.07 L585.08,186.56 L586.03,187.06 L586.98,187.55 L587.93,188.04 L588.89,188.53 L589.84,189.02 L590.79,189.51 L591.75,190.01 L592.70,190.50 L593.65,190.99 L594.61,191.48 L595.56,191.97 L596.51,192.47 L597.47,192.96 L598.42,193.45 L599.37,193.94 L600.33,194.43 L601.28,194.93 L602.23,195.42 L603.19,195.91 L604.14,196.40 L605.09,196.89 L606.05,197.38 L607.00,197.88 L607.95,198.37 L608.90,198.86 L609.86,199.35 L610.81,199.84 L611.76,200.34 L612.72,200.83 L613.67,201.32 L614.62,201.81 L615.58,202.30 L616.53,202.80 L617.48,203.29 L618.44,203.78 L619.39,204.27 L620.34,204.76 L621.30,205.25 L622.25,205.75 L623.20,206.24 L624.16,206.73 L625.11,207.22 L626.06,207.71 L627.02,208.21 L627.97,208.70 L628.92,209.19 L629.87,209.68 L630.83,210.17 L631.78,210.67 L632.73,211.16 L633.69,211.65 L634.64,212.14 L635.59,212.63 L636.55,213.12 L637.50,213.62" fill="none" stroke="#808080" stroke-width="2.5" stroke-linejoin="round"/>
<path d="M352.50,138.51 L353.45,138.49 L354.41,138.49 L355.36,138.49 L356.31,138.49 L357.27,138.50 L358.22,138.51 L359.17,138.53 L360.13,138.55 L361.08,138.57 L362.03,138.60 L362.98,138.64 L363.94,138.67 L364.89,138.71 L365.84,138.75 L366.80,138.80 L367.75,138.84 L368.70,138.89 L369.66,138.95 L370.61,139.00 L371.56,139.06 L372.52,139.12 L373.47,139.18 L374.42,139.25 L375.38,139.31 L376.33,139.38 L377.28,139.45 L378.24,139.52 L379.19,139.59 L380.14,139.67 L381.10,139.74 L382.05,139.82 L383.00,139.90 L383.95,139.98 L384.91,140.06 L385.86,140.15 L386.81,140.23 L387.77,140.31 L388.72,140.40 L389.67,140.49 L390.63,140.57 L391.58,140.66 L392.53,140.75 L393.49,140.84 L394.44,140.93 L395.39,141.03 L396.35,141.12 L397.30,141.21 L398.25,141.31 L399.21,141.40 L400.16,141.50 L401.11,141.59 L402.07,141.69 L403.02,141.79 L403.97,141.88 L404.92,141.98 L405.88,142.08 L406.83,142.18 L407.78,142.28 L408.74,142.38 L409.69,142.48 L410.64,142.58 L411.60,142.68 L412.55,142.78 L413.50,142.89 L414.46,142.99 L415.41,143.09 L416.36,143.19 L417.32,143.30 L418.27,143.40 L419.22,143.50 L420.18,143.61 L421.13,143.71 L422.08,143.82 L423.04,143.92 L423.99,144.03 L424.94,144.13 L425.89,144.24 L426.85,144.35 L427.80,144.45 L428.75,144.56 L429.71,144.67 L430.66,144.77 L431.61,144.88 L432.57,144.99 L433.52,145.10 L434.47,145.20 L435.43,145.31 L436.38,145.42 L437.33,145.53 L438.29,145.64 L439.24,145.75 L440.19,145.86 L441.15,145.97 L442.10,146.08 L443.05,146.19 L444.01,146.30 L444.96,146.41 L445.91,146.52 L446.86,146.63 L447.82,146.75 L448.77,146.86 L449.72,146.97 L450.68,147.09 L451.63,147.20 L452.58,147.31 L453.54,147.43 L454.49,147.54 L455.44,147.66 L456.40,147.77 L457.35,147.89 L458.30,148.01 L459.26,148.12 L460.21,148.24 L461.16,148.36 L462.12,148.48 L463.07,148.60 L464.02,148.72 L464.97,148.84 L465.93,148.96 L466.88,149.08 L467.83,149.20 L468.79,149.32 L469.74,149.45 L470.69,149.57 L471.65,149.70 L472.60,149.83 L473.55,149.95 L474.51,150.08 L475.46,150.21 L476.41,150.34 L477.37,150.47 L478.32,150.60 L479.27,150.74 L480.23,150.87 L481.18,151.01 L482.13,151.15 L483.09,151.28 L484.04,151.42 L484.99,151.56 L485.94,151.71 L486.90,151.85 L487.85,152.00 L488.80,152.14 L489.76,152.29 L490.71,152.44 L491.66,152.60 L492.62,152.75 L493.57,152.91 L494.52,153.07 L495.48,153.23 L496.43,153.39 L497.38,153.56 L498.34,153.72 L499.29,153.89 L500.24,154.07 L501.20,154.24 L502.15,154.42 L503.10,154.60 L504.06,154.78 L505.01,154.97 L505.96,155.16 L506.91,155.35 L507.87,155.55 L508.82,155.75 L509.77,155.95 L510.73,156.15 L511.68,156.36 L512.63,156.57 L513.59,156.79 L514.54,157.01 L515.49,157.23 L516.45,157.46 L517.40,157.69 L518.35,157.92 L519.31,158.16 L520.26,158.41 L521.21,158.65 L522.17,158.91 L523.12,159.16 L524.07,159.42 L525.03,159.69 L525.98,159.95 L526.93,160.23 L527.88,160.51 L528.84,160.79 L529.79,161.08 L530.74,161.37 L531.70,161.66 L532.65,161.96 L533.60,162.27 L534.56,162.58 L535.51,162.89 L536.46,163.21 L537.42,163.54 L538.37,163.86 L539.32,164.20 L540.28,164.53 L541.23,164.88 L542.18,165.22 L543.14,165.57 L544.09,165.93 L545.04,166.29 L545.99,166.65 L546.95,167.02 L547.90,167.39 L548.85,167.76 L549.81,168.14 L550.76,168.53 L551.71,168.92 L552.67,169.31 L553.62,169.70 L554.57,170.10 L555.53,170.50 L556.48,170.91 L557.43,171.32 L558.39,171.73 L559.34,172.15 L560.29,172.57 L561.25,172.99 L562.20,173.41 L563.15,173.84 L564.11,174.27 L565.06,174.71 L566.01,175.14 L566.96,175.58 L567.92,176.02 L568.87,176.47 L569.82,176.91 L570.78,177.36 L571.73,177.81 L572.68,178.27 L573.64,178.72 L574.59,179.18 L575.54,179.64 L576.50,180.10 L577.45,180.56 L578.40,181.02 L579.36,181.49 L580.31,181.96 L581.26,182.43 L582.22,182.90 L583.17,183.37 L584.12,183.84 L585.08,184.32 L586.03,184.79 L586.98,185.27 L587.93,185.75 L588.89,186.23 L589.84,186.71 L590.79,187.19 L591.75,187.68 L592.70,188.16 L593.65,188.64 L594.61,189.13 L595.56,189.62 L596.51,190.10 L597.47,190.59 L598.42,191.08 L599.37,191.57 L600.33,192.06 L601.28,192.55 L602.23,193.04 L603.19,193.53 L604.14,194.03 L605.09,194.52 L606.05,195.01 L607.00,195.51 L607.95,196.00 L608.90,196.50 L609.86,196.99 L610.81,197.49 L611.76,197.99 L612.72,198.48 L613.67,198.98 L614.62,199.48 L615.58,199.98 L616.53,200.48 L617.48,200.97 L618.44,201.47 L619.39,201.97 L620.34,202.47 L621.30,202.97 L622.25,203.47 L623.20,203.97 L624.16,204.47 L625.11,204.97 L626.06,205.48 L627.02,205.98 L627.97,206.48 L628.92,206.98 L629.87,207.48 L630.83,207.98 L631.78,208.48 L632.73,208.99 L633.69,209.49 L634.64,209.99 L635.59,210.49 L636.55,211.00 L637.50,211.50" fill="none" stroke="#8c67dd" stroke-width="2.5" stroke-dasharray="5.7,2.3,2.1,2.3" stroke-linejoin="round"/>
</g>
<rect x="352.5" y="113.5" width="285.0" height="99.0" fill="none" stroke="#333" stroke-width="1"/>
<line x1="352.5" y1="212.5" x2="352.5" y2="211.0" stroke="#333" stroke-width="0.8"/>
<line x1="352.5" y1="113.5" x2="352.5" y2="115.0" stroke="#333" stroke-width="0.8"/>
<line x1="360.02221837452436" y1="212.5" x2="360.02221837452436" y2="211.0" stroke="#333" stroke-width="0.8"/>
<line x1="360.02221837452436" y1="113.5" x2="360.02221837452436" y2="115.0" stroke="#333" stroke-width="0.8"/>
<line x1="366.3821633894326" y1="212.5" x2="366.3821633894326" y2="211.0" stroke="#333" stroke-width="0.8"/>
<line x1="366.3821633894326" y1="113.5" x2="366.3821633894326" y2="115.0" stroke="#333" stroke-width="0.8"/>
<line x1="371.8913983523128" y1="212.5" x2="371.8913983523128" y2="211.0" stroke="#333" stroke-width="0.8"/>
<line x1="371.8913983523128" y1="113.5" x2="371.8913983523128" y2="115.0" stroke="#333" stroke-width="0.8"/>
<line x1="376.7508879848141" y1="212.5" x2="376.7508879848141" y2="211.0" stroke="#333" stroke-width="0.8"/>
<line x1="376.7508879848141" y1="113.5" x2="376.7508879848141" y2="115.0" stroke="#333" stroke-width="0.8"/>
<line x1="381.0978495880782" y1="212.5" x2="381.0978495880782" y2="209.5" stroke="#333" stroke-width="0.8"/>
<line x1="381.0978495880782" y1="113.5" x2="381.0978495880782" y2="116.5" stroke="#333" stroke-width="0.8"/>
<text x="381.10" y="227.00" font-size="14" text-anchor="middle" fill="#000">10<tspan font-size="10" dx="0.00" dy="-5.4">1</tspan></text>
<line x1="409.69569917615644" y1="212.5" x2="409.69569917615644" y2="211.0" stroke="#333" stroke-width="0.8"/>
<line x1="409.69569917615644" y1="113.5" x2="409.69569917615644" y2="115.0" stroke="#333" stroke-width="0.8"/>
<line x1="426.42436878644617" y1="212.5" x2="426.42436878644617" y2="211.0" stroke="#333" stroke-width="0.8"/>
<line x1="426.42436878644617" y1="113.5" x2="426.42436878644617" y2="115.0" stroke="#333" stroke-width="0.8"/>
<line x1="438.29354876423463" y1="212.5" x2="438.29354876423463" y2="211.0" stroke="#333" stroke-width="0.8"/>
<line x1="438.29354876423463" y1="113.5" x2="438.29354876423463" y2="115.0" stroke="#333" stroke-width="0.8"/>
<line x1="447.5" y1="212.5" x2="447.5" y2="211.0" stroke="#333" stroke-width="0.8"/>
<line x1="447.5" y1="113.5" x2="447.5" y2="115.0" stroke="#333" stroke-width="0.8"/>
<line x1="455.02221837452436" y1="212.5" x2="455.02221837452436" y2="211.0" stroke="#333" stroke-width="0.8"/>
<line x1="455.02221837452436" y1="113.5" x2="455.02221837452436" y2="115.0" stroke="#333" stroke-width="0.8"/>
<line x1="461.38216338943266" y1="212.5" x2="461.38216338943266" y2="211.0" stroke="#333" stroke-width="0.8"/>
<line x1="461.38216338943266" y1="113.5" x2="461.38216338943266" y2="115.0" stroke="#333" stroke-width="0.8"/>
<line x1="466.8913983523128" y1="212.5" x2="466.8913983523128" y2="211.0" stroke="#333" stroke-width="0.8"/>
<line x1="466.8913983523128" y1="113.5" x2="466.8913983523128" y2="115.0" stroke="#333" stroke-width="0.8"/>
<line x1="471.7508879848141" y1="212.5" x2="471.7508879848141" y2="211.0" stroke="#333" stroke-width="0.8"/>
<line x1="471.7508879848141" y1="113.5" x2="471.7508879848141" y2="115.0" stroke="#333" stroke-width="0.8"/>
<line x1="476.09784958807825" y1="212.5" x2="476.09784958807825" y2="209.5" stroke="#333" stroke-width="0.8"/>
<line x1="476.09784958807825" y1="113.5" x2="476.09784958807825" y2="116.5" stroke="#333" stroke-width="0.8"/>
<text x="476.10" y="227.00" font-size="14" text-anchor="middle" fill="#000">10<tspan font-size="10" dx="0.00" dy="-5.4">2</tspan></text>
<line x1="504.69569917615644" y1="212.5" x2="504.69569917615644" y2="211.0" stroke="#333" stroke-width="0.8"/>
<line x1="504.69569917615644" y1="113.5" x2="504.69569917615644" y2="115.0" stroke="#333" stroke-width="0.8"/>
<line x1="521.4243687864462" y1="212.5" x2="521.4243687864462" y2="211.0" stroke="#333" stroke-width="0.8"/>
<line x1="521.4243687864462" y1="113.5" x2="521.4243687864462" y2="115.0" stroke="#333" stroke-width="0.8"/>
<line x1="533.2935487642346" y1="212.5" x2="533.2935487642346" y2="211.0" stroke="#333" stroke-width="0.8"/>
<line x1="533.2935487642346" y1="113.5" x2="533.2935487642346" y2="115.0" stroke="#333" stroke-width="0.8"/>
<line x1="542.5" y1="212.5" x2="542.5" y2="211.0" stroke="#333" stroke-width="0.8"/>
<line x1="542.5" y1="113.5" x2="542.5" y2="115.0" stroke="#333" stroke-width="0.8"/>
<line x1="550.0222183745243" y1="212.5" x2="550.0222183745243" y2="211.0" stroke="#333" stroke-width="0.8"/>
<line x1="550.0222183745243" y1="113.5" x2="550.0222183745243" y2="115.0" stroke="#333" stroke-width="0.8"/>
<line x1="556.3821633894327" y1="212.5" x2="556.3821633894327" y2="211.0" stroke="#333" stroke-width="0.8"/>
<line x1="556.3821633894327" y1="113.5" x2="556.3821633894327" y2="115.0" stroke="#333" stroke-width="0.8"/>
<line x1="561.8913983523129" y1="212.5" x2="561.8913983523129" y2="211.0" stroke="#333" stroke-width="0.8"/>
<line x1="561.8913983523129" y1="113.5" x2="561.8913983523129" y2="115.0" stroke="#333" stroke-width="0.8"/>
<line x1="566.7508879848141" y1="212.5" x2="566.7508879848141" y2="211.0" stroke="#333" stroke-width="0.8"/>
<line x1="566.7508879848141" y1="113.5" x2="566.7508879848141" y2="115.0" stroke="#333" stroke-width="0.8"/>
<line x1="571.0978495880782" y1="212.5" x2="571.0978495880782" y2="209.5" stroke="#333" stroke-width="0.8"/>
<line x1="571.0978495880782" y1="113.5" x2="571.0978495880782" y2="116.5" stroke="#333" stroke-width="0.8"/>
<text x="571.10" y="227.00" font-size="14" text-anchor="middle" fill="#000">10<tspan font-size="10" dx="0.00" dy="-5.4">3</tspan></text>
<line x1="599.6956991761565" y1="212.5" x2="599.6956991761565" y2="211.0" stroke="#333" stroke-width="0.8"/>
<line x1="599.6956991761565" y1="113.5" x2="599.6956991761565" y2="115.0" stroke="#333" stroke-width="0.8"/>
<line x1="616.4243687864462" y1="212.5" x2="616.4243687864462" y2="211.0" stroke="#333" stroke-width="0.8"/>
<line x1="616.4243687864462" y1="113.5" x2="616.4243687864462" y2="115.0" stroke="#333" stroke-width="0.8"/>
<line x1="628.2935487642346" y1="212.5" x2="628.2935487642346" y2="211.0" stroke="#333" stroke-width="0.8"/>
<line x1="628.2935487642346" y1="113.5" x2="628.2935487642346" y2="115.0" stroke="#333" stroke-width="0.8"/>
<line x1="637.5" y1="212.5" x2="637.5" y2="211.0" stroke="#333" stroke-width="0.8"/>
<line x1="637.5" y1="113.5" x2="637.5" y2="115.0" stroke="#333" stroke-width="0.8"/>
<line x1="352.5" y1="212.5" x2="355.5" y2="212.5" stroke="#333" stroke-width="0.8"/>
<line x1="637.5" y1="212.5" x2="634.5" y2="212.5" stroke="#333" stroke-width="0.8"/>
<line x1="352.5" y1="197.5990152146329" x2="354.0" y2="197.5990152146329" stroke="#333" stroke-width="0.8"/>
<line x1="637.5" y1="197.5990152146329" x2="636.0" y2="197.5990152146329" stroke="#333" stroke-width="0.8"/>
<line x1="352.5" y1="188.88249789137672" x2="354.0" y2="188.88249789137672" stroke="#333" stroke-width="0.8"/>
<line x1="637.5" y1="188.88249789137672" x2="636.0" y2="188.88249789137672" stroke="#333" stroke-width="0.8"/>
<line x1="352.5" y1="182.69803042926586" x2="354.0" y2="182.69803042926586" stroke="#333" stroke-width="0.8"/>
<line x1="637.5" y1="182.69803042926586" x2="636.0" y2="182.69803042926586" stroke="#333" stroke-width="0.8"/>
<line x1="352.5" y1="177.9009847853671" x2="354.0" y2="177.9009847853671" stroke="#333" stroke-width="0.8"/>
<line x1="637.5" y1="177.9009847853671" x2="636.0" y2="177.9009847853671" stroke="#333" stroke-width="0.8"/>
<line x1="352.5" y1="173.98151310600963" x2="354.0" y2="173.98151310600963" stroke="#333" stroke-width="0.8"/>
<line x1="637.5" y1="173.98151310600963" x2="636.0" y2="173.98151310600963" stroke="#333" stroke-width="0.8"/>
<line x1="352.5" y1="170.6676470192943" x2="354.0" y2="170.6676470192943" stroke="#333" stroke-width="0.8"/>
<line x1="637.5" y1="170.6676470192943" x2="636.0" y2="170.6676470192943" stroke="#333" stroke-width="0.8"/>
<line x1="352.5" y1="167.7970456438988" x2="354.0" y2="167.7970456438988" stroke="#333" stroke-width="0.8"/>
<line x1="637.5" y1="167.7970456438988" x2="636.0" y2="167.7970456438988" stroke="#333" stroke-width="0.8"/>
<line x1="352.5" y1="165.2649957827534" x2="354.0" y2="165.2649957827534" stroke="#333" stroke-width="0.8"/>
<line x1="637.5" y1="165.2649957827534" x2="636.0" y2="165.2649957827534" stroke="#333" stroke-width="0.8"/>
<line x1="352.5" y1="163.0" x2="355.5" y2="163.0" stroke="#333" stroke-width="0.8"/>
<line x1="637.5" y1="163.0" x2="634.5" y2="163.0" stroke="#333" stroke-width="0.8"/>
<line x1="352.5" y1="148.0990152146329" x2="354.0" y2="148.0990152146329" stroke="#333" stroke-width="0.8"/>
<line x1="637.5" y1="148.0990152146329" x2="636.0" y2="148.0990152146329" stroke="#333" stroke-width="0.8"/>
<line x1="352.5" y1="139.38249789137672" x2="354.0" y2="139.38249789137672" stroke="#333" stroke-width="0.8"/>
<line x1="637.5" y1="139.38249789137672" x2="636.0" y2="139.38249789137672" stroke="#333" stroke-width="0.8"/>
<line x1="352.5" y1="133.19803042926586" x2="354.0" y2="133.19803042926586" stroke="#333" stroke-width="0.8"/>
<line x1="637.5" y1="133.19803042926586" x2="636.0" y2="133.19803042926586" stroke="#333" stroke-width="0.8"/>
<line x1="352.5" y1="128.4009847853671" x2="354.0" y2="128.4009847853671" stroke="#333" stroke-width="0.8"/>
<line x1="637.5" y1="128.4009847853671" x2="636.0" y2="128.4009847853671" stroke="#333" stroke-width="0.8"/>
<line x1="352.5" y1="124.48151310600963" x2="354.0" y2="124.48151310600963" stroke="#333" stroke-width="0.8"/>
<line x1="637.5" y1="124.48151310600963" x2="636.0" y2="124.48151310600963" stroke="#333" stroke-width="0.8"/>
<line x1="352.5" y1="121.16764701929428" x2="354.0" y2="121.16764701929428" stroke="#333" stroke-width="0.8"/>
<line x1="637.5" y1="121.16764701929428" x2="636.0" y2="121.16764701929428" stroke="#333" stroke-width="0.8"/>
<line x1="352.5" y1="118.29704564389878" x2="354.0" y2="118.29704564389878" stroke="#333" stroke-width="0.8"/>
<line x1="637.5" y1="118.29704564389878" x2="636.0" y2="118.29704564389878" stroke="#333" stroke-width="0.8"/>
<line x1="352.5" y1="115.7649957827534" x2="354.0" y2="115.7649957827534" stroke="#333" stroke-width="0.8"/>
<line x1="637.5" y1="115.7649957827534" x2="636.0" y2="115.7649957827534" stroke="#333" stroke-width="0.8"/>
<line x1="352.5" y1="113.5" x2="355.5" y2="113.5" stroke="#333" stroke-width="0.8"/>
<line x1="637.5" y1="113.5" x2="634.5" y2="113.5" stroke="#333" stroke-width="0.8"/>
<text x="639.10" y="217.80" font-size="14" text-anchor="start" fill="#000">10<tspan font-size="10" dx="0.00" dy="-5.4">23</tspan></text>
<text x="639.10" y="168.30" font-size="14" text-anchor="start" fill="#000">10<tspan font-size="10" dx="0.00" dy="-5.4">24</tspan></text>
<text x="639.10" y="118.80" font-size="14" text-anchor="start" fill="#000">10<tspan font-size="10" dx="0.00" dy="-5.4">25</tspan></text>
<text x="355.30" y="127.60" font-size="16.2" text-anchor="start" fill="#000" font-weight="bold" stroke="#000" stroke-width="0.3">(c)</text>
<text x="494.70" y="243.90" font-size="17.8" text-anchor="middle" fill="#000" font-weight="normal">Frequency, Hz</text>
<text x="681.00" y="162.30" font-size="17.7" text-anchor="middle" fill="#000" font-weight="normal" transform="rotate(-90 681 162.3)">Response , Hz<tspan font-size="13.5" dy="-6.5">1/2</tspan></text>
<text x="357.60" y="154.70" font-size="16.4" text-anchor="start" fill="#8c67dd" font-weight="normal">EPR '+'</text>
<text x="361.50" y="201.20" font-size="16.2" text-anchor="start" fill="#ff8c00" font-weight="normal" transform="rotate(-22.5 361.5 201.2)">EPR '<tspan dx="0.6">−</tspan><tspan dx="0.6">'</tspan></text>
<text x="526.50" y="151.50" font-size="16.5" text-anchor="start" fill="#808080" font-weight="normal" transform="rotate(28 526.5 151.5)">Michelson</text>
</svg>
</body></html>
